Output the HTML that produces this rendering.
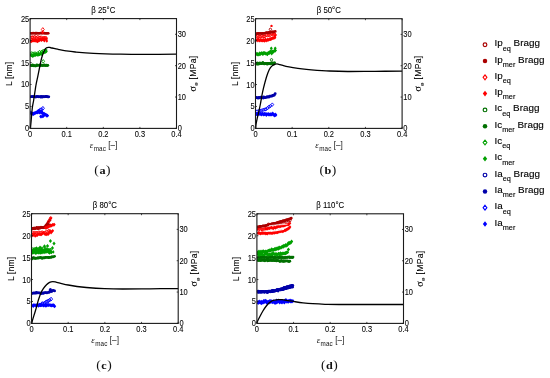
<!DOCTYPE html><html><head><meta charset="utf-8"><style>html,body{margin:0;padding:0;background:#fff;}svg{display:block;filter:blur(0.35px);}text{font-family:"Liberation Sans", sans-serif;}</style></head><body>
<svg width="550" height="378" viewBox="0 0 550 378">
<rect width="550" height="378" fill="#fff"/>
<clipPath id="ca"><rect x="30.10" y="18.60" width="146.40" height="109.80"/></clipPath>
<g clip-path="url(#ca)"><path d="M30.7,39.4l1.4,1.8l-1.4,1.8l-1.4,-1.8z" fill="#ff0000"/><path d="M31.2,39.6l1.4,1.8l-1.4,1.8l-1.4,-1.8z" fill="#ff0000"/><path d="M32.1,38.6l1.4,1.8l-1.4,1.8l-1.4,-1.8z" fill="#ff0000"/><path d="M32.7,38.9l1.4,1.8l-1.4,1.8l-1.4,-1.8z" fill="#ff0000"/><path d="M33.1,38.5l1.4,1.8l-1.4,1.8l-1.4,-1.8z" fill="#ff0000"/><path d="M33.8,38.8l1.4,1.8l-1.4,1.8l-1.4,-1.8z" fill="#ff0000"/><path d="M34.6,38.8l1.4,1.8l-1.4,1.8l-1.4,-1.8z" fill="#ff0000"/><path d="M35.2,38.3l1.4,1.8l-1.4,1.8l-1.4,-1.8z" fill="#ff0000"/><path d="M36.1,39.4l1.4,1.8l-1.4,1.8l-1.4,-1.8z" fill="#ff0000"/><path d="M36.6,38.3l1.4,1.8l-1.4,1.8l-1.4,-1.8z" fill="#ff0000"/><path d="M37.6,39.7l1.4,1.8l-1.4,1.8l-1.4,-1.8z" fill="#ff0000"/><path d="M37.8,38.8l1.4,1.8l-1.4,1.8l-1.4,-1.8z" fill="#ff0000"/><path d="M38.4,38.8l1.4,1.8l-1.4,1.8l-1.4,-1.8z" fill="#ff0000"/><path d="M39.4,38.7l1.4,1.8l-1.4,1.8l-1.4,-1.8z" fill="#ff0000"/><path d="M39.7,37.5l1.4,1.8l-1.4,1.8l-1.4,-1.8z" fill="#ff0000"/><path d="M40.4,37.7l1.4,1.8l-1.4,1.8l-1.4,-1.8z" fill="#ff0000"/><path d="M41.2,38.3l1.4,1.8l-1.4,1.8l-1.4,-1.8z" fill="#ff0000"/><path d="M41.6,38.1l1.4,1.8l-1.4,1.8l-1.4,-1.8z" fill="#ff0000"/><path d="M42.6,37.4l1.4,1.8l-1.4,1.8l-1.4,-1.8z" fill="#ff0000"/><path d="M43.2,38.1l1.4,1.8l-1.4,1.8l-1.4,-1.8z" fill="#ff0000"/><path d="M43.7,37.5l1.4,1.8l-1.4,1.8l-1.4,-1.8z" fill="#ff0000"/><path d="M44.5,38.8l1.4,1.8l-1.4,1.8l-1.4,-1.8z" fill="#ff0000"/><path d="M44.9,37.0l1.4,1.8l-1.4,1.8l-1.4,-1.8z" fill="#ff0000"/><path d="M45.9,37.2l1.4,1.8l-1.4,1.8l-1.4,-1.8z" fill="#ff0000"/><path d="M46.5,37.1l1.4,1.8l-1.4,1.8l-1.4,-1.8z" fill="#ff0000"/><path d="M46.8,39.2l1.4,1.8l-1.4,1.8l-1.4,-1.8z" fill="#ff0000"/><path d="M30.8,35.9l1.4,1.8l-1.4,1.8l-1.4,-1.8z" fill="none" stroke="#ff0000" stroke-width="0.9"/><path d="M32.0,35.6l1.4,1.8l-1.4,1.8l-1.4,-1.8z" fill="none" stroke="#ff0000" stroke-width="0.9"/><path d="M32.9,35.6l1.4,1.8l-1.4,1.8l-1.4,-1.8z" fill="none" stroke="#ff0000" stroke-width="0.9"/><path d="M34.4,35.3l1.4,1.8l-1.4,1.8l-1.4,-1.8z" fill="none" stroke="#ff0000" stroke-width="0.9"/><path d="M35.7,35.6l1.4,1.8l-1.4,1.8l-1.4,-1.8z" fill="none" stroke="#ff0000" stroke-width="0.9"/><path d="M36.7,36.3l1.4,1.8l-1.4,1.8l-1.4,-1.8z" fill="none" stroke="#ff0000" stroke-width="0.9"/><path d="M37.9,35.2l1.4,1.8l-1.4,1.8l-1.4,-1.8z" fill="none" stroke="#ff0000" stroke-width="0.9"/><path d="M39.3,36.0l1.4,1.8l-1.4,1.8l-1.4,-1.8z" fill="none" stroke="#ff0000" stroke-width="0.9"/><path d="M40.1,35.8l1.4,1.8l-1.4,1.8l-1.4,-1.8z" fill="none" stroke="#ff0000" stroke-width="0.9"/><path d="M41.4,35.8l1.4,1.8l-1.4,1.8l-1.4,-1.8z" fill="none" stroke="#ff0000" stroke-width="0.9"/><path d="M42.6,36.7l1.4,1.8l-1.4,1.8l-1.4,-1.8z" fill="none" stroke="#ff0000" stroke-width="0.9"/><path d="M43.5,36.1l1.4,1.8l-1.4,1.8l-1.4,-1.8z" fill="none" stroke="#ff0000" stroke-width="0.9"/><path d="M44.8,36.1l1.4,1.8l-1.4,1.8l-1.4,-1.8z" fill="none" stroke="#ff0000" stroke-width="0.9"/><path d="M46.0,36.2l1.4,1.8l-1.4,1.8l-1.4,-1.8z" fill="none" stroke="#ff0000" stroke-width="0.9"/><circle cx="30.3" cy="33.2" r="1.3" fill="#aa0000"/><circle cx="31.4" cy="33.2" r="1.3" fill="#aa0000"/><circle cx="31.7" cy="33.2" r="1.3" fill="#aa0000"/><circle cx="32.9" cy="33.3" r="1.3" fill="#aa0000"/><circle cx="33.1" cy="33.1" r="1.3" fill="#aa0000"/><circle cx="34.3" cy="33.2" r="1.3" fill="#aa0000"/><circle cx="35.0" cy="33.3" r="1.3" fill="#aa0000"/><circle cx="35.5" cy="33.1" r="1.3" fill="#aa0000"/><circle cx="36.2" cy="33.4" r="1.3" fill="#aa0000"/><circle cx="36.8" cy="33.0" r="1.3" fill="#aa0000"/><circle cx="37.5" cy="33.2" r="1.3" fill="#aa0000"/><circle cx="38.4" cy="33.3" r="1.3" fill="#aa0000"/><circle cx="39.2" cy="33.2" r="1.3" fill="#aa0000"/><circle cx="39.8" cy="33.2" r="1.3" fill="#aa0000"/><circle cx="40.5" cy="33.0" r="1.3" fill="#aa0000"/><circle cx="41.4" cy="33.1" r="1.3" fill="#aa0000"/><circle cx="42.0" cy="33.1" r="1.3" fill="#aa0000"/><circle cx="42.5" cy="33.1" r="1.3" fill="#aa0000"/><circle cx="43.7" cy="33.2" r="1.3" fill="#aa0000"/><circle cx="44.4" cy="33.0" r="1.3" fill="#aa0000"/><circle cx="44.8" cy="33.2" r="1.3" fill="#aa0000"/><circle cx="45.7" cy="33.2" r="1.3" fill="#aa0000"/><circle cx="46.1" cy="33.3" r="1.3" fill="#aa0000"/><circle cx="46.9" cy="33.2" r="1.3" fill="#aa0000"/><circle cx="47.7" cy="33.2" r="1.3" fill="#aa0000"/><circle cx="48.3" cy="33.2" r="1.3" fill="#aa0000"/><path d="M42.6,30.4l1.5,1.9l-1.5,1.9l-1.5,-1.9z" fill="#ff0000"/><path d="M42.8,27.6l1.5,1.9l-1.5,1.9l-1.5,-1.9z" fill="none" stroke="#ff0000" stroke-width="0.9"/><path d="M30.3,53.0l1.5,1.9l-1.5,1.9l-1.5,-1.9z" fill="#00a000"/><path d="M31.3,53.3l1.5,1.9l-1.5,1.9l-1.5,-1.9z" fill="#00a000"/><path d="M31.7,53.5l1.5,1.9l-1.5,1.9l-1.5,-1.9z" fill="#00a000"/><path d="M32.1,53.7l1.5,1.9l-1.5,1.9l-1.5,-1.9z" fill="#00a000"/><path d="M32.7,54.1l1.5,1.9l-1.5,1.9l-1.5,-1.9z" fill="#00a000"/><path d="M33.7,53.8l1.5,1.9l-1.5,1.9l-1.5,-1.9z" fill="#00a000"/><path d="M33.9,52.9l1.5,1.9l-1.5,1.9l-1.5,-1.9z" fill="#00a000"/><path d="M34.3,52.9l1.5,1.9l-1.5,1.9l-1.5,-1.9z" fill="#00a000"/><path d="M35.0,52.5l1.5,1.9l-1.5,1.9l-1.5,-1.9z" fill="#00a000"/><path d="M35.5,53.2l1.5,1.9l-1.5,1.9l-1.5,-1.9z" fill="#00a000"/><path d="M36.0,52.7l1.5,1.9l-1.5,1.9l-1.5,-1.9z" fill="#00a000"/><path d="M36.6,52.1l1.5,1.9l-1.5,1.9l-1.5,-1.9z" fill="#00a000"/><path d="M37.4,53.0l1.5,1.9l-1.5,1.9l-1.5,-1.9z" fill="#00a000"/><path d="M38.3,52.7l1.5,1.9l-1.5,1.9l-1.5,-1.9z" fill="#00a000"/><path d="M38.8,52.6l1.5,1.9l-1.5,1.9l-1.5,-1.9z" fill="#00a000"/><path d="M39.0,52.4l1.5,1.9l-1.5,1.9l-1.5,-1.9z" fill="#00a000"/><path d="M39.5,52.5l1.5,1.9l-1.5,1.9l-1.5,-1.9z" fill="#00a000"/><path d="M40.4,51.4l1.5,1.9l-1.5,1.9l-1.5,-1.9z" fill="#00a000"/><path d="M40.7,51.9l1.5,1.9l-1.5,1.9l-1.5,-1.9z" fill="#00a000"/><path d="M41.7,52.1l1.5,1.9l-1.5,1.9l-1.5,-1.9z" fill="#00a000"/><path d="M42.2,51.4l1.5,1.9l-1.5,1.9l-1.5,-1.9z" fill="#00a000"/><path d="M42.7,50.1l1.5,1.9l-1.5,1.9l-1.5,-1.9z" fill="#00a000"/><path d="M43.0,50.4l1.5,1.9l-1.5,1.9l-1.5,-1.9z" fill="#00a000"/><path d="M43.4,50.7l1.5,1.9l-1.5,1.9l-1.5,-1.9z" fill="#00a000"/><path d="M44.0,50.5l1.5,1.9l-1.5,1.9l-1.5,-1.9z" fill="#00a000"/><path d="M45.0,50.4l1.5,1.9l-1.5,1.9l-1.5,-1.9z" fill="#00a000"/><path d="M45.7,48.5l1.5,1.9l-1.5,1.9l-1.5,-1.9z" fill="#00a000"/><path d="M46.3,49.5l1.5,1.9l-1.5,1.9l-1.5,-1.9z" fill="#00a000"/><path d="M31.3,51.6l1.4,1.8l-1.4,1.8l-1.4,-1.8z" fill="none" stroke="#00a000" stroke-width="0.9"/><path d="M32.9,51.8l1.4,1.8l-1.4,1.8l-1.4,-1.8z" fill="none" stroke="#00a000" stroke-width="0.9"/><path d="M35.0,51.6l1.4,1.8l-1.4,1.8l-1.4,-1.8z" fill="none" stroke="#00a000" stroke-width="0.9"/><path d="M37.5,51.7l1.4,1.8l-1.4,1.8l-1.4,-1.8z" fill="none" stroke="#00a000" stroke-width="0.9"/><path d="M39.5,50.3l1.4,1.8l-1.4,1.8l-1.4,-1.8z" fill="none" stroke="#00a000" stroke-width="0.9"/><path d="M41.5,50.2l1.4,1.8l-1.4,1.8l-1.4,-1.8z" fill="none" stroke="#00a000" stroke-width="0.9"/><path d="M43.2,49.2l1.4,1.8l-1.4,1.8l-1.4,-1.8z" fill="none" stroke="#00a000" stroke-width="0.9"/><path d="M45.7,48.2l1.4,1.8l-1.4,1.8l-1.4,-1.8z" fill="none" stroke="#00a000" stroke-width="0.9"/><circle cx="30.7" cy="65.3" r="1.4" fill="#007000"/><circle cx="31.4" cy="65.5" r="1.4" fill="#007000"/><circle cx="31.8" cy="65.7" r="1.4" fill="#007000"/><circle cx="32.5" cy="64.8" r="1.4" fill="#007000"/><circle cx="33.2" cy="65.8" r="1.4" fill="#007000"/><circle cx="33.8" cy="65.3" r="1.4" fill="#007000"/><circle cx="34.5" cy="65.8" r="1.4" fill="#007000"/><circle cx="35.6" cy="65.9" r="1.4" fill="#007000"/><circle cx="35.9" cy="65.8" r="1.4" fill="#007000"/><circle cx="36.9" cy="64.8" r="1.4" fill="#007000"/><circle cx="37.4" cy="65.3" r="1.4" fill="#007000"/><circle cx="37.9" cy="65.4" r="1.4" fill="#007000"/><circle cx="39.2" cy="65.2" r="1.4" fill="#007000"/><circle cx="39.9" cy="65.1" r="1.4" fill="#007000"/><circle cx="40.3" cy="65.7" r="1.4" fill="#007000"/><circle cx="40.8" cy="65.0" r="1.4" fill="#007000"/><circle cx="41.6" cy="65.3" r="1.4" fill="#007000"/><circle cx="42.5" cy="65.5" r="1.4" fill="#007000"/><circle cx="43.0" cy="65.2" r="1.4" fill="#007000"/><circle cx="44.0" cy="65.4" r="1.4" fill="#007000"/><circle cx="44.4" cy="65.0" r="1.4" fill="#007000"/><circle cx="45.4" cy="65.4" r="1.4" fill="#007000"/><circle cx="45.9" cy="65.6" r="1.4" fill="#007000"/><circle cx="46.6" cy="65.2" r="1.4" fill="#007000"/><circle cx="47.3" cy="65.6" r="1.4" fill="#007000"/><circle cx="47.8" cy="65.3" r="1.4" fill="#007000"/><path d="M43.2,59.5l1.4,1.8l-1.4,1.8l-1.4,-1.8z" fill="none" stroke="#00a000" stroke-width="0.9"/><circle cx="30.2" cy="96.8" r="1.4" fill="#0000aa"/><circle cx="31.2" cy="96.7" r="1.4" fill="#0000aa"/><circle cx="32.1" cy="96.6" r="1.4" fill="#0000aa"/><circle cx="32.7" cy="96.7" r="1.4" fill="#0000aa"/><circle cx="33.4" cy="96.8" r="1.4" fill="#0000aa"/><circle cx="34.1" cy="96.7" r="1.4" fill="#0000aa"/><circle cx="34.7" cy="96.7" r="1.4" fill="#0000aa"/><circle cx="35.5" cy="97.1" r="1.4" fill="#0000aa"/><circle cx="36.3" cy="96.8" r="1.4" fill="#0000aa"/><circle cx="36.9" cy="96.4" r="1.4" fill="#0000aa"/><circle cx="37.8" cy="96.6" r="1.4" fill="#0000aa"/><circle cx="38.5" cy="96.8" r="1.4" fill="#0000aa"/><circle cx="39.1" cy="96.6" r="1.4" fill="#0000aa"/><circle cx="40.1" cy="96.8" r="1.4" fill="#0000aa"/><circle cx="40.7" cy="97.1" r="1.4" fill="#0000aa"/><circle cx="41.2" cy="96.5" r="1.4" fill="#0000aa"/><circle cx="42.1" cy="97.2" r="1.4" fill="#0000aa"/><circle cx="42.5" cy="96.7" r="1.4" fill="#0000aa"/><circle cx="43.2" cy="96.7" r="1.4" fill="#0000aa"/><circle cx="44.0" cy="96.8" r="1.4" fill="#0000aa"/><circle cx="44.6" cy="96.6" r="1.4" fill="#0000aa"/><circle cx="45.9" cy="96.5" r="1.4" fill="#0000aa"/><circle cx="46.1" cy="96.7" r="1.4" fill="#0000aa"/><circle cx="46.8" cy="96.5" r="1.4" fill="#0000aa"/><circle cx="48.0" cy="96.9" r="1.4" fill="#0000aa"/><circle cx="48.8" cy="96.8" r="1.4" fill="#0000aa"/><path d="M30.7,110.6l1.6,1.9l-1.6,1.9l-1.6,-1.9z" fill="#0000ff"/><path d="M31.6,112.1l1.6,1.9l-1.6,1.9l-1.6,-1.9z" fill="#0000ff"/><path d="M31.8,111.4l1.6,1.9l-1.6,1.9l-1.6,-1.9z" fill="#0000ff"/><path d="M32.6,112.0l1.6,1.9l-1.6,1.9l-1.6,-1.9z" fill="#0000ff"/><path d="M33.1,111.4l1.6,1.9l-1.6,1.9l-1.6,-1.9z" fill="#0000ff"/><path d="M33.6,112.3l1.6,1.9l-1.6,1.9l-1.6,-1.9z" fill="#0000ff"/><path d="M34.6,111.3l1.6,1.9l-1.6,1.9l-1.6,-1.9z" fill="#0000ff"/><path d="M35.1,111.2l1.6,1.9l-1.6,1.9l-1.6,-1.9z" fill="#0000ff"/><path d="M35.9,110.7l1.6,1.9l-1.6,1.9l-1.6,-1.9z" fill="#0000ff"/><path d="M36.7,110.5l1.6,1.9l-1.6,1.9l-1.6,-1.9z" fill="#0000ff"/><path d="M37.2,110.6l1.6,1.9l-1.6,1.9l-1.6,-1.9z" fill="#0000ff"/><path d="M37.5,110.2l1.6,1.9l-1.6,1.9l-1.6,-1.9z" fill="#0000ff"/><path d="M38.0,110.2l1.6,1.9l-1.6,1.9l-1.6,-1.9z" fill="#0000ff"/><path d="M38.7,109.7l1.6,1.9l-1.6,1.9l-1.6,-1.9z" fill="#0000ff"/><path d="M39.5,110.7l1.6,1.9l-1.6,1.9l-1.6,-1.9z" fill="#0000ff"/><path d="M40.0,109.3l1.6,1.9l-1.6,1.9l-1.6,-1.9z" fill="#0000ff"/><path d="M40.6,110.3l1.6,1.9l-1.6,1.9l-1.6,-1.9z" fill="#0000ff"/><path d="M41.6,109.7l1.6,1.9l-1.6,1.9l-1.6,-1.9z" fill="#0000ff"/><path d="M41.8,111.0l1.6,1.9l-1.6,1.9l-1.6,-1.9z" fill="#0000ff"/><path d="M42.6,111.1l1.6,1.9l-1.6,1.9l-1.6,-1.9z" fill="#0000ff"/><path d="M43.1,111.8l1.6,1.9l-1.6,1.9l-1.6,-1.9z" fill="#0000ff"/><path d="M44.1,111.8l1.6,1.9l-1.6,1.9l-1.6,-1.9z" fill="#0000ff"/><path d="M44.3,112.4l1.6,1.9l-1.6,1.9l-1.6,-1.9z" fill="#0000ff"/><path d="M45.4,112.8l1.6,1.9l-1.6,1.9l-1.6,-1.9z" fill="#0000ff"/><path d="M45.8,112.7l1.6,1.9l-1.6,1.9l-1.6,-1.9z" fill="#0000ff"/><path d="M46.7,113.7l1.6,1.9l-1.6,1.9l-1.6,-1.9z" fill="#0000ff"/><path d="M46.9,113.6l1.6,1.9l-1.6,1.9l-1.6,-1.9z" fill="#0000ff"/><path d="M47.5,113.8l1.6,1.9l-1.6,1.9l-1.6,-1.9z" fill="#0000ff"/><path d="M37.8,109.8l1.5,1.9l-1.5,1.9l-1.5,-1.9z" fill="none" stroke="#0000ff" stroke-width="0.9"/><path d="M39.0,109.0l1.5,1.9l-1.5,1.9l-1.5,-1.9z" fill="none" stroke="#0000ff" stroke-width="0.9"/><path d="M40.3,107.9l1.5,1.9l-1.5,1.9l-1.5,-1.9z" fill="none" stroke="#0000ff" stroke-width="0.9"/><path d="M41.5,107.7l1.5,1.9l-1.5,1.9l-1.5,-1.9z" fill="none" stroke="#0000ff" stroke-width="0.9"/><path d="M42.9,106.4l1.5,1.9l-1.5,1.9l-1.5,-1.9z" fill="none" stroke="#0000ff" stroke-width="0.9"/><path d="M40.7,114.6l1.5,1.9l-1.5,1.9l-1.5,-1.9z" fill="#0000ff"/><path d="M41.9,114.8l1.5,1.9l-1.5,1.9l-1.5,-1.9z" fill="#0000ff"/><path d="M43.0,114.4l1.5,1.9l-1.5,1.9l-1.5,-1.9z" fill="#0000ff"/><path d="M43.8,113.7l1.5,1.9l-1.5,1.9l-1.5,-1.9z" fill="#0000ff"/></g>
<path d="M30.40,128.40 C30.53,127.00 30.88,123.40 31.20,120.00 C31.52,116.60 31.88,111.33 32.30,108.00 C32.72,104.67 33.22,103.00 33.70,100.00 C34.18,97.00 34.78,92.70 35.20,90.00 C35.62,87.30 35.75,86.15 36.20,83.80 C36.65,81.45 37.35,78.55 37.90,75.90 C38.45,73.25 38.97,70.52 39.50,67.90 C40.03,65.28 40.62,62.27 41.10,60.20 C41.58,58.13 41.98,56.82 42.40,55.50 C42.82,54.18 43.15,53.35 43.60,52.30 C44.05,51.25 44.60,49.95 45.10,49.20 C45.60,48.45 46.08,48.12 46.60,47.80 C47.12,47.48 47.63,47.35 48.20,47.30 C48.77,47.25 49.37,47.38 50.00,47.50 C50.63,47.62 51.17,47.80 52.00,48.00 C52.83,48.20 53.85,48.43 55.00,48.70 C56.15,48.97 57.07,49.23 58.90,49.60 C60.73,49.97 63.27,50.50 66.00,50.90 C68.73,51.30 70.72,51.60 75.30,52.00 C79.88,52.40 85.93,52.95 93.50,53.30 C101.07,53.65 111.62,53.93 120.70,54.10 C129.78,54.27 138.70,54.28 148.00,54.30 C157.30,54.32 171.75,54.22 176.50,54.20" fill="none" stroke="#000" stroke-width="1.3"/>
<rect x="30.10" y="18.60" width="146.40" height="109.80" fill="none" stroke="#1a1a1a" stroke-width="1.1"/>
<path d="M30.10,128.40v-1.5M30.10,18.60v1.5M66.70,128.40v-1.5M66.70,18.60v1.5M103.30,128.40v-1.5M103.30,18.60v1.5M139.90,128.40v-1.5M139.90,18.60v1.5M176.50,128.40v-1.5M176.50,18.60v1.5M30.10,128.40h1.5M30.10,106.44h1.5M30.10,84.48h1.5M30.10,62.52h1.5M30.10,40.56h1.5M30.10,18.60h1.5M176.50,128.40h-1.5M176.50,97.03h-1.5M176.50,65.66h-1.5M176.50,34.29h-1.5" stroke="#1a1a1a" stroke-width="0.8" fill="none"/>
<g font-size="8.3" fill="#000" stroke="#000" stroke-width="0.08"><text transform="translate(30.10,137.10) scale(0.900,1)" text-anchor="middle">0</text><text transform="translate(66.70,137.10) scale(0.900,1)" text-anchor="middle">0.1</text><text transform="translate(103.30,137.10) scale(0.900,1)" text-anchor="middle">0.2</text><text transform="translate(139.90,137.10) scale(0.900,1)" text-anchor="middle">0.3</text><text transform="translate(176.50,137.10) scale(0.900,1)" text-anchor="middle">0.4</text><text transform="translate(29.20,131.40) scale(0.900,1)" text-anchor="end">0</text><text transform="translate(29.20,109.44) scale(0.900,1)" text-anchor="end">5</text><text transform="translate(29.20,87.48) scale(0.900,1)" text-anchor="end">10</text><text transform="translate(29.20,65.52) scale(0.900,1)" text-anchor="end">15</text><text transform="translate(29.20,43.56) scale(0.900,1)" text-anchor="end">20</text><text transform="translate(29.20,21.60) scale(0.900,1)" text-anchor="end">25</text><text transform="translate(177.70,131.40) scale(0.900,1)" text-anchor="start">0</text><text transform="translate(177.70,100.03) scale(0.900,1)" text-anchor="start">10</text><text transform="translate(177.70,68.66) scale(0.900,1)" text-anchor="start">20</text><text transform="translate(177.70,37.29) scale(0.900,1)" text-anchor="start">30</text></g>
<text transform="translate(103.30,12.80) scale(0.93,1)" font-size="8.4" text-anchor="middle" fill="#000" stroke="#000" stroke-width="0.08">β 25°C</text>
<text transform="translate(12.40,73.80) rotate(-90)" font-size="8.4" letter-spacing="0.25" text-anchor="middle" fill="#000" stroke="#000" stroke-width="0.08">L [nm]</text>
<text transform="translate(195.50,73.50) rotate(-90)" font-size="8.6" letter-spacing="0.3" text-anchor="middle" fill="#000" stroke="#000" stroke-width="0.08"><tspan font-family="'Liberation Serif',serif" font-size="10">σ</tspan><tspan font-size="6.2" dy="2.6">e</tspan><tspan dy="-2.6"> [MPa]</tspan></text>
<text x="103.60" y="147.80" font-size="8.3" text-anchor="middle" fill="#111"><tspan font-family="'Liberation Serif',serif" font-style="italic" font-size="8.8">ε</tspan><tspan font-size="6.3" dy="3.6" letter-spacing="0.15" dx="0.4">mac</tspan><tspan dy="-3.6" font-size="8.2"> [–]</tspan></text>
<text transform="translate(102.70,174.10) scale(1.1,1)" font-size="12.3" letter-spacing="0.5" text-anchor="middle" fill="#111" style="font-family:'Liberation Serif',serif">(<tspan font-size="11.1" font-weight="bold">a</tspan>)</text>
<clipPath id="cb"><rect x="255.50" y="18.70" width="146.60" height="109.70"/></clipPath>
<g clip-path="url(#cb)"><path d="M256.0,38.4l1.5,1.9l-1.5,1.9l-1.5,-1.9z" fill="#ff0000"/><path d="M257.2,37.7l1.5,1.9l-1.5,1.9l-1.5,-1.9z" fill="#ff0000"/><path d="M257.9,38.6l1.5,1.9l-1.5,1.9l-1.5,-1.9z" fill="#ff0000"/><path d="M258.4,37.6l1.5,1.9l-1.5,1.9l-1.5,-1.9z" fill="#ff0000"/><path d="M259.5,38.4l1.5,1.9l-1.5,1.9l-1.5,-1.9z" fill="#ff0000"/><path d="M259.9,38.8l1.5,1.9l-1.5,1.9l-1.5,-1.9z" fill="#ff0000"/><path d="M260.8,37.8l1.5,1.9l-1.5,1.9l-1.5,-1.9z" fill="#ff0000"/><path d="M261.5,38.4l1.5,1.9l-1.5,1.9l-1.5,-1.9z" fill="#ff0000"/><path d="M262.1,38.7l1.5,1.9l-1.5,1.9l-1.5,-1.9z" fill="#ff0000"/><path d="M262.8,38.5l1.5,1.9l-1.5,1.9l-1.5,-1.9z" fill="#ff0000"/><path d="M263.6,38.1l1.5,1.9l-1.5,1.9l-1.5,-1.9z" fill="#ff0000"/><path d="M264.3,39.0l1.5,1.9l-1.5,1.9l-1.5,-1.9z" fill="#ff0000"/><path d="M265.4,37.6l1.5,1.9l-1.5,1.9l-1.5,-1.9z" fill="#ff0000"/><path d="M265.9,38.4l1.5,1.9l-1.5,1.9l-1.5,-1.9z" fill="#ff0000"/><path d="M266.8,38.7l1.5,1.9l-1.5,1.9l-1.5,-1.9z" fill="#ff0000"/><path d="M267.4,37.7l1.5,1.9l-1.5,1.9l-1.5,-1.9z" fill="#ff0000"/><path d="M268.6,38.0l1.5,1.9l-1.5,1.9l-1.5,-1.9z" fill="#ff0000"/><path d="M269.4,37.3l1.5,1.9l-1.5,1.9l-1.5,-1.9z" fill="#ff0000"/><path d="M270.2,37.3l1.5,1.9l-1.5,1.9l-1.5,-1.9z" fill="#ff0000"/><path d="M270.5,37.3l1.5,1.9l-1.5,1.9l-1.5,-1.9z" fill="#ff0000"/><path d="M271.3,37.0l1.5,1.9l-1.5,1.9l-1.5,-1.9z" fill="#ff0000"/><path d="M272.1,36.3l1.5,1.9l-1.5,1.9l-1.5,-1.9z" fill="#ff0000"/><path d="M272.9,36.3l1.5,1.9l-1.5,1.9l-1.5,-1.9z" fill="#ff0000"/><path d="M273.4,36.0l1.5,1.9l-1.5,1.9l-1.5,-1.9z" fill="#ff0000"/><path d="M274.4,35.8l1.5,1.9l-1.5,1.9l-1.5,-1.9z" fill="#ff0000"/><path d="M274.9,35.7l1.5,1.9l-1.5,1.9l-1.5,-1.9z" fill="#ff0000"/><path d="M256.0,34.9l1.4,1.7l-1.4,1.7l-1.4,-1.7z" fill="none" stroke="#ff0000" stroke-width="0.9"/><path d="M257.5,34.5l1.4,1.7l-1.4,1.7l-1.4,-1.7z" fill="none" stroke="#ff0000" stroke-width="0.9"/><path d="M258.8,34.7l1.4,1.7l-1.4,1.7l-1.4,-1.7z" fill="none" stroke="#ff0000" stroke-width="0.9"/><path d="M260.1,35.0l1.4,1.7l-1.4,1.7l-1.4,-1.7z" fill="none" stroke="#ff0000" stroke-width="0.9"/><path d="M261.2,34.6l1.4,1.7l-1.4,1.7l-1.4,-1.7z" fill="none" stroke="#ff0000" stroke-width="0.9"/><path d="M262.8,34.8l1.4,1.7l-1.4,1.7l-1.4,-1.7z" fill="none" stroke="#ff0000" stroke-width="0.9"/><path d="M263.9,34.8l1.4,1.7l-1.4,1.7l-1.4,-1.7z" fill="none" stroke="#ff0000" stroke-width="0.9"/><path d="M264.8,34.6l1.4,1.7l-1.4,1.7l-1.4,-1.7z" fill="none" stroke="#ff0000" stroke-width="0.9"/><path d="M266.4,33.6l1.4,1.7l-1.4,1.7l-1.4,-1.7z" fill="none" stroke="#ff0000" stroke-width="0.9"/><path d="M267.7,33.8l1.4,1.7l-1.4,1.7l-1.4,-1.7z" fill="none" stroke="#ff0000" stroke-width="0.9"/><path d="M268.9,33.4l1.4,1.7l-1.4,1.7l-1.4,-1.7z" fill="none" stroke="#ff0000" stroke-width="0.9"/><path d="M270.1,33.4l1.4,1.7l-1.4,1.7l-1.4,-1.7z" fill="none" stroke="#ff0000" stroke-width="0.9"/><path d="M271.6,32.2l1.4,1.7l-1.4,1.7l-1.4,-1.7z" fill="none" stroke="#ff0000" stroke-width="0.9"/><path d="M272.7,32.5l1.4,1.7l-1.4,1.7l-1.4,-1.7z" fill="none" stroke="#ff0000" stroke-width="0.9"/><path d="M274.0,32.3l1.4,1.7l-1.4,1.7l-1.4,-1.7z" fill="none" stroke="#ff0000" stroke-width="0.9"/><path d="M275.0,33.0l1.4,1.7l-1.4,1.7l-1.4,-1.7z" fill="none" stroke="#ff0000" stroke-width="0.9"/><circle cx="256.1" cy="33.6" r="1.3" fill="#aa0000"/><circle cx="256.7" cy="33.7" r="1.3" fill="#aa0000"/><circle cx="257.8" cy="33.4" r="1.3" fill="#aa0000"/><circle cx="258.5" cy="33.5" r="1.3" fill="#aa0000"/><circle cx="258.9" cy="33.4" r="1.3" fill="#aa0000"/><circle cx="260.1" cy="33.5" r="1.3" fill="#aa0000"/><circle cx="260.7" cy="33.3" r="1.3" fill="#aa0000"/><circle cx="261.6" cy="33.6" r="1.3" fill="#aa0000"/><circle cx="262.1" cy="33.5" r="1.3" fill="#aa0000"/><circle cx="262.7" cy="33.3" r="1.3" fill="#aa0000"/><circle cx="263.5" cy="33.4" r="1.3" fill="#aa0000"/><circle cx="264.6" cy="33.2" r="1.3" fill="#aa0000"/><circle cx="265.2" cy="33.0" r="1.3" fill="#aa0000"/><circle cx="266.0" cy="32.8" r="1.3" fill="#aa0000"/><circle cx="266.8" cy="32.6" r="1.3" fill="#aa0000"/><circle cx="267.6" cy="32.8" r="1.3" fill="#aa0000"/><circle cx="268.1" cy="32.7" r="1.3" fill="#aa0000"/><circle cx="269.1" cy="32.4" r="1.3" fill="#aa0000"/><circle cx="269.4" cy="32.5" r="1.3" fill="#aa0000"/><circle cx="270.2" cy="32.2" r="1.3" fill="#aa0000"/><circle cx="271.4" cy="32.2" r="1.3" fill="#aa0000"/><circle cx="272.1" cy="31.9" r="1.3" fill="#aa0000"/><circle cx="272.7" cy="32.0" r="1.3" fill="#aa0000"/><circle cx="273.5" cy="31.9" r="1.3" fill="#aa0000"/><circle cx="274.1" cy="31.7" r="1.3" fill="#aa0000"/><circle cx="275.3" cy="31.4" r="1.3" fill="#aa0000"/><circle cx="270.4" cy="29.4" r="1.2" fill="none" stroke="#aa0000" stroke-width="0.9"/><circle cx="271.5" cy="25.9" r="1.2" fill="#ff0000"/><path d="M275.2,33.6l1.5,1.9l-1.5,1.9l-1.5,-1.9z" fill="#ff0000"/><path d="M256.2,51.8l1.6,2.0l-1.6,2.0l-1.6,-2.0z" fill="#00a000"/><path d="M257.2,52.5l1.6,2.0l-1.6,2.0l-1.6,-2.0z" fill="#00a000"/><path d="M257.6,51.9l1.6,2.0l-1.6,2.0l-1.6,-2.0z" fill="#00a000"/><path d="M258.3,52.5l1.6,2.0l-1.6,2.0l-1.6,-2.0z" fill="#00a000"/><path d="M259.3,52.2l1.6,2.0l-1.6,2.0l-1.6,-2.0z" fill="#00a000"/><path d="M259.8,51.2l1.6,2.0l-1.6,2.0l-1.6,-2.0z" fill="#00a000"/><path d="M260.6,52.1l1.6,2.0l-1.6,2.0l-1.6,-2.0z" fill="#00a000"/><path d="M261.8,50.9l1.6,2.0l-1.6,2.0l-1.6,-2.0z" fill="#00a000"/><path d="M262.5,51.7l1.6,2.0l-1.6,2.0l-1.6,-2.0z" fill="#00a000"/><path d="M263.0,52.1l1.6,2.0l-1.6,2.0l-1.6,-2.0z" fill="#00a000"/><path d="M263.6,51.1l1.6,2.0l-1.6,2.0l-1.6,-2.0z" fill="#00a000"/><path d="M264.4,50.9l1.6,2.0l-1.6,2.0l-1.6,-2.0z" fill="#00a000"/><path d="M265.3,51.6l1.6,2.0l-1.6,2.0l-1.6,-2.0z" fill="#00a000"/><path d="M266.0,51.5l1.6,2.0l-1.6,2.0l-1.6,-2.0z" fill="#00a000"/><path d="M267.2,52.3l1.6,2.0l-1.6,2.0l-1.6,-2.0z" fill="#00a000"/><path d="M267.5,52.0l1.6,2.0l-1.6,2.0l-1.6,-2.0z" fill="#00a000"/><path d="M268.3,50.8l1.6,2.0l-1.6,2.0l-1.6,-2.0z" fill="#00a000"/><path d="M269.6,51.0l1.6,2.0l-1.6,2.0l-1.6,-2.0z" fill="#00a000"/><path d="M270.0,50.0l1.6,2.0l-1.6,2.0l-1.6,-2.0z" fill="#00a000"/><path d="M270.8,49.3l1.6,2.0l-1.6,2.0l-1.6,-2.0z" fill="#00a000"/><path d="M271.7,51.4l1.6,2.0l-1.6,2.0l-1.6,-2.0z" fill="#00a000"/><path d="M272.3,49.6l1.6,2.0l-1.6,2.0l-1.6,-2.0z" fill="#00a000"/><path d="M272.9,49.9l1.6,2.0l-1.6,2.0l-1.6,-2.0z" fill="#00a000"/><path d="M273.7,49.5l1.6,2.0l-1.6,2.0l-1.6,-2.0z" fill="#00a000"/><path d="M275.0,48.4l1.6,2.0l-1.6,2.0l-1.6,-2.0z" fill="#00a000"/><path d="M275.3,48.6l1.6,2.0l-1.6,2.0l-1.6,-2.0z" fill="#00a000"/><path d="M271.3,46.4l1.5,1.9l-1.5,1.9l-1.5,-1.9z" fill="#00a000"/><path d="M275.2,46.4l1.5,1.9l-1.5,1.9l-1.5,-1.9z" fill="#00a000"/><circle cx="256.4" cy="63.2" r="1.5" fill="#007000"/><circle cx="257.0" cy="64.1" r="1.5" fill="#007000"/><circle cx="257.6" cy="63.0" r="1.5" fill="#007000"/><circle cx="258.4" cy="63.9" r="1.5" fill="#007000"/><circle cx="258.9" cy="63.5" r="1.5" fill="#007000"/><circle cx="259.7" cy="63.2" r="1.5" fill="#007000"/><circle cx="260.0" cy="63.1" r="1.5" fill="#007000"/><circle cx="261.2" cy="63.6" r="1.5" fill="#007000"/><circle cx="261.5" cy="63.6" r="1.5" fill="#007000"/><circle cx="262.2" cy="63.3" r="1.5" fill="#007000"/><circle cx="262.8" cy="62.4" r="1.5" fill="#007000"/><circle cx="263.7" cy="63.2" r="1.5" fill="#007000"/><circle cx="264.3" cy="63.7" r="1.5" fill="#007000"/><circle cx="264.8" cy="63.4" r="1.5" fill="#007000"/><circle cx="265.9" cy="63.5" r="1.5" fill="#007000"/><circle cx="266.4" cy="63.4" r="1.5" fill="#007000"/><circle cx="267.3" cy="64.0" r="1.5" fill="#007000"/><circle cx="267.7" cy="63.4" r="1.5" fill="#007000"/><circle cx="268.2" cy="63.4" r="1.5" fill="#007000"/><circle cx="269.0" cy="63.5" r="1.5" fill="#007000"/><circle cx="269.6" cy="63.4" r="1.5" fill="#007000"/><circle cx="270.5" cy="63.7" r="1.5" fill="#007000"/><circle cx="271.1" cy="62.9" r="1.5" fill="#007000"/><circle cx="271.7" cy="62.9" r="1.5" fill="#007000"/><circle cx="272.4" cy="63.2" r="1.5" fill="#007000"/><circle cx="272.9" cy="63.1" r="1.5" fill="#007000"/><circle cx="273.6" cy="64.1" r="1.5" fill="#007000"/><circle cx="274.5" cy="62.7" r="1.5" fill="#007000"/><circle cx="271.5" cy="59.8" r="1.2" fill="none" stroke="#007000" stroke-width="0.9"/><circle cx="256.0" cy="97.3" r="1.4" fill="#0000aa"/><circle cx="256.8" cy="97.7" r="1.4" fill="#0000aa"/><circle cx="257.7" cy="98.0" r="1.4" fill="#0000aa"/><circle cx="258.8" cy="98.1" r="1.4" fill="#0000aa"/><circle cx="259.0" cy="97.3" r="1.4" fill="#0000aa"/><circle cx="259.7" cy="97.6" r="1.4" fill="#0000aa"/><circle cx="260.8" cy="97.2" r="1.4" fill="#0000aa"/><circle cx="261.6" cy="98.1" r="1.4" fill="#0000aa"/><circle cx="262.6" cy="97.7" r="1.4" fill="#0000aa"/><circle cx="263.3" cy="98.1" r="1.4" fill="#0000aa"/><circle cx="263.7" cy="97.0" r="1.4" fill="#0000aa"/><circle cx="264.4" cy="97.7" r="1.4" fill="#0000aa"/><circle cx="265.5" cy="97.7" r="1.4" fill="#0000aa"/><circle cx="266.4" cy="97.2" r="1.4" fill="#0000aa"/><circle cx="267.1" cy="96.8" r="1.4" fill="#0000aa"/><circle cx="267.6" cy="97.0" r="1.4" fill="#0000aa"/><circle cx="268.6" cy="96.8" r="1.4" fill="#0000aa"/><circle cx="269.0" cy="97.0" r="1.4" fill="#0000aa"/><circle cx="269.8" cy="96.2" r="1.4" fill="#0000aa"/><circle cx="270.5" cy="96.1" r="1.4" fill="#0000aa"/><circle cx="271.6" cy="96.2" r="1.4" fill="#0000aa"/><circle cx="272.0" cy="95.9" r="1.4" fill="#0000aa"/><circle cx="273.1" cy="95.4" r="1.4" fill="#0000aa"/><circle cx="273.7" cy="95.1" r="1.4" fill="#0000aa"/><circle cx="274.2" cy="95.2" r="1.4" fill="#0000aa"/><circle cx="275.2" cy="93.7" r="1.4" fill="#0000aa"/><path d="M256.3,112.3l1.6,2.0l-1.6,2.0l-1.6,-2.0z" fill="#0000ff"/><path d="M257.2,111.7l1.6,2.0l-1.6,2.0l-1.6,-2.0z" fill="#0000ff"/><path d="M257.5,112.1l1.6,2.0l-1.6,2.0l-1.6,-2.0z" fill="#0000ff"/><path d="M258.7,112.0l1.6,2.0l-1.6,2.0l-1.6,-2.0z" fill="#0000ff"/><path d="M258.8,111.7l1.6,2.0l-1.6,2.0l-1.6,-2.0z" fill="#0000ff"/><path d="M259.9,111.9l1.6,2.0l-1.6,2.0l-1.6,-2.0z" fill="#0000ff"/><path d="M260.5,111.7l1.6,2.0l-1.6,2.0l-1.6,-2.0z" fill="#0000ff"/><path d="M261.4,112.4l1.6,2.0l-1.6,2.0l-1.6,-2.0z" fill="#0000ff"/><path d="M261.8,112.0l1.6,2.0l-1.6,2.0l-1.6,-2.0z" fill="#0000ff"/><path d="M262.7,111.6l1.6,2.0l-1.6,2.0l-1.6,-2.0z" fill="#0000ff"/><path d="M263.4,112.5l1.6,2.0l-1.6,2.0l-1.6,-2.0z" fill="#0000ff"/><path d="M264.4,112.2l1.6,2.0l-1.6,2.0l-1.6,-2.0z" fill="#0000ff"/><path d="M264.8,111.7l1.6,2.0l-1.6,2.0l-1.6,-2.0z" fill="#0000ff"/><path d="M266.0,112.0l1.6,2.0l-1.6,2.0l-1.6,-2.0z" fill="#0000ff"/><path d="M266.3,113.1l1.6,2.0l-1.6,2.0l-1.6,-2.0z" fill="#0000ff"/><path d="M267.0,112.3l1.6,2.0l-1.6,2.0l-1.6,-2.0z" fill="#0000ff"/><path d="M268.2,111.9l1.6,2.0l-1.6,2.0l-1.6,-2.0z" fill="#0000ff"/><path d="M268.7,112.4l1.6,2.0l-1.6,2.0l-1.6,-2.0z" fill="#0000ff"/><path d="M269.4,112.6l1.6,2.0l-1.6,2.0l-1.6,-2.0z" fill="#0000ff"/><path d="M270.2,112.6l1.6,2.0l-1.6,2.0l-1.6,-2.0z" fill="#0000ff"/><path d="M270.8,112.3l1.6,2.0l-1.6,2.0l-1.6,-2.0z" fill="#0000ff"/><path d="M271.4,112.6l1.6,2.0l-1.6,2.0l-1.6,-2.0z" fill="#0000ff"/><path d="M272.1,112.3l1.6,2.0l-1.6,2.0l-1.6,-2.0z" fill="#0000ff"/><path d="M272.8,111.6l1.6,2.0l-1.6,2.0l-1.6,-2.0z" fill="#0000ff"/><path d="M274.0,113.0l1.6,2.0l-1.6,2.0l-1.6,-2.0z" fill="#0000ff"/><path d="M274.7,113.4l1.6,2.0l-1.6,2.0l-1.6,-2.0z" fill="#0000ff"/><path d="M275.2,112.4l1.6,2.0l-1.6,2.0l-1.6,-2.0z" fill="#0000ff"/><path d="M275.8,113.1l1.6,2.0l-1.6,2.0l-1.6,-2.0z" fill="#0000ff"/><path d="M257.1,109.7l1.4,1.7l-1.4,1.7l-1.4,-1.7z" fill="none" stroke="#0000ff" stroke-width="0.9"/><path d="M259.0,109.2l1.4,1.7l-1.4,1.7l-1.4,-1.7z" fill="none" stroke="#0000ff" stroke-width="0.9"/><path d="M260.2,109.1l1.4,1.7l-1.4,1.7l-1.4,-1.7z" fill="none" stroke="#0000ff" stroke-width="0.9"/><path d="M261.6,108.8l1.4,1.7l-1.4,1.7l-1.4,-1.7z" fill="none" stroke="#0000ff" stroke-width="0.9"/><path d="M263.2,108.1l1.4,1.7l-1.4,1.7l-1.4,-1.7z" fill="none" stroke="#0000ff" stroke-width="0.9"/><path d="M265.0,107.8l1.4,1.7l-1.4,1.7l-1.4,-1.7z" fill="none" stroke="#0000ff" stroke-width="0.9"/><path d="M266.0,107.5l1.4,1.7l-1.4,1.7l-1.4,-1.7z" fill="none" stroke="#0000ff" stroke-width="0.9"/><path d="M267.5,106.4l1.4,1.7l-1.4,1.7l-1.4,-1.7z" fill="none" stroke="#0000ff" stroke-width="0.9"/><path d="M269.0,105.1l1.4,1.7l-1.4,1.7l-1.4,-1.7z" fill="none" stroke="#0000ff" stroke-width="0.9"/><path d="M270.3,104.4l1.4,1.7l-1.4,1.7l-1.4,-1.7z" fill="none" stroke="#0000ff" stroke-width="0.9"/><path d="M272.3,102.9l1.4,1.7l-1.4,1.7l-1.4,-1.7z" fill="none" stroke="#0000ff" stroke-width="0.9"/></g>
<path d="M255.70,128.40 C255.77,127.67 255.87,125.60 256.10,124.00 C256.33,122.40 256.68,120.72 257.10,118.80 C257.52,116.88 258.05,114.97 258.60,112.50 C259.15,110.03 259.87,106.75 260.40,104.00 C260.93,101.25 261.27,98.72 261.80,96.00 C262.33,93.28 262.83,90.83 263.60,87.70 C264.37,84.57 265.47,80.18 266.40,77.20 C267.33,74.22 268.38,71.57 269.20,69.80 C270.02,68.03 270.50,67.47 271.30,66.60 C272.10,65.73 273.05,65.05 274.00,64.60 C274.95,64.15 276.00,63.90 277.00,63.90 C278.00,63.90 278.50,64.20 280.00,64.60 C281.50,65.00 283.83,65.80 286.00,66.30 C288.17,66.80 290.33,67.17 293.00,67.60 C295.67,68.03 298.93,68.53 302.00,68.90 C305.07,69.27 306.82,69.45 311.40,69.80 C315.98,70.15 323.45,70.72 329.50,71.00 C335.55,71.28 340.12,71.45 347.70,71.50 C355.28,71.55 365.93,71.35 375.00,71.30 C384.07,71.25 397.58,71.22 402.10,71.20" fill="none" stroke="#000" stroke-width="1.3"/>
<rect x="255.50" y="18.70" width="146.60" height="109.70" fill="none" stroke="#1a1a1a" stroke-width="1.1"/>
<path d="M255.50,128.40v-1.5M255.50,18.70v1.5M292.15,128.40v-1.5M292.15,18.70v1.5M328.80,128.40v-1.5M328.80,18.70v1.5M365.45,128.40v-1.5M365.45,18.70v1.5M402.10,128.40v-1.5M402.10,18.70v1.5M255.50,128.40h1.5M255.50,106.46h1.5M255.50,84.52h1.5M255.50,62.58h1.5M255.50,40.64h1.5M255.50,18.70h1.5M402.10,128.40h-1.5M402.10,97.06h-1.5M402.10,65.71h-1.5M402.10,34.37h-1.5" stroke="#1a1a1a" stroke-width="0.8" fill="none"/>
<g font-size="8.3" fill="#000" stroke="#000" stroke-width="0.08"><text transform="translate(255.50,137.10) scale(0.900,1)" text-anchor="middle">0</text><text transform="translate(292.15,137.10) scale(0.900,1)" text-anchor="middle">0.1</text><text transform="translate(328.80,137.10) scale(0.900,1)" text-anchor="middle">0.2</text><text transform="translate(365.45,137.10) scale(0.900,1)" text-anchor="middle">0.3</text><text transform="translate(402.10,137.10) scale(0.900,1)" text-anchor="middle">0.4</text><text transform="translate(254.60,131.40) scale(0.900,1)" text-anchor="end">0</text><text transform="translate(254.60,109.46) scale(0.900,1)" text-anchor="end">5</text><text transform="translate(254.60,87.52) scale(0.900,1)" text-anchor="end">10</text><text transform="translate(254.60,65.58) scale(0.900,1)" text-anchor="end">15</text><text transform="translate(254.60,43.64) scale(0.900,1)" text-anchor="end">20</text><text transform="translate(254.60,21.70) scale(0.900,1)" text-anchor="end">25</text><text transform="translate(403.30,131.40) scale(0.900,1)" text-anchor="start">0</text><text transform="translate(403.30,100.06) scale(0.900,1)" text-anchor="start">10</text><text transform="translate(403.30,68.71) scale(0.900,1)" text-anchor="start">20</text><text transform="translate(403.30,37.37) scale(0.900,1)" text-anchor="start">30</text></g>
<text transform="translate(328.80,12.90) scale(0.93,1)" font-size="8.4" text-anchor="middle" fill="#000" stroke="#000" stroke-width="0.08">β 50°C</text>
<text transform="translate(237.80,73.85) rotate(-90)" font-size="8.4" letter-spacing="0.25" text-anchor="middle" fill="#000" stroke="#000" stroke-width="0.08">L [nm]</text>
<text transform="translate(421.10,73.55) rotate(-90)" font-size="8.6" letter-spacing="0.3" text-anchor="middle" fill="#000" stroke="#000" stroke-width="0.08"><tspan font-family="'Liberation Serif',serif" font-size="10">σ</tspan><tspan font-size="6.2" dy="2.6">e</tspan><tspan dy="-2.6"> [MPa]</tspan></text>
<text x="329.10" y="147.80" font-size="8.3" text-anchor="middle" fill="#111"><tspan font-family="'Liberation Serif',serif" font-style="italic" font-size="8.8">ε</tspan><tspan font-size="6.3" dy="3.6" letter-spacing="0.15" dx="0.4">mac</tspan><tspan dy="-3.6" font-size="8.2"> [–]</tspan></text>
<text transform="translate(328.20,174.10) scale(1.1,1)" font-size="12.3" letter-spacing="0.5" text-anchor="middle" fill="#111" style="font-family:'Liberation Serif',serif">(<tspan font-size="11.1" font-weight="bold">b</tspan>)</text>
<clipPath id="cc"><rect x="31.50" y="213.70" width="146.70" height="109.70"/></clipPath>
<g clip-path="url(#cc)"><path d="M32.0,231.7l1.4,1.8l-1.4,1.8l-1.4,-1.8z" fill="#ff0000"/><path d="M32.8,233.6l1.4,1.8l-1.4,1.8l-1.4,-1.8z" fill="#ff0000"/><path d="M33.8,233.1l1.4,1.8l-1.4,1.8l-1.4,-1.8z" fill="#ff0000"/><path d="M34.4,231.9l1.4,1.8l-1.4,1.8l-1.4,-1.8z" fill="#ff0000"/><path d="M35.2,234.2l1.4,1.8l-1.4,1.8l-1.4,-1.8z" fill="#ff0000"/><path d="M36.2,233.5l1.4,1.8l-1.4,1.8l-1.4,-1.8z" fill="#ff0000"/><path d="M37.3,233.4l1.4,1.8l-1.4,1.8l-1.4,-1.8z" fill="#ff0000"/><path d="M37.9,232.6l1.4,1.8l-1.4,1.8l-1.4,-1.8z" fill="#ff0000"/><path d="M39.1,232.5l1.4,1.8l-1.4,1.8l-1.4,-1.8z" fill="#ff0000"/><path d="M39.8,232.5l1.4,1.8l-1.4,1.8l-1.4,-1.8z" fill="#ff0000"/><path d="M40.4,232.7l1.4,1.8l-1.4,1.8l-1.4,-1.8z" fill="#ff0000"/><path d="M41.5,232.7l1.4,1.8l-1.4,1.8l-1.4,-1.8z" fill="#ff0000"/><path d="M42.4,231.6l1.4,1.8l-1.4,1.8l-1.4,-1.8z" fill="#ff0000"/><path d="M42.7,231.5l1.4,1.8l-1.4,1.8l-1.4,-1.8z" fill="#ff0000"/><path d="M43.7,231.0l1.4,1.8l-1.4,1.8l-1.4,-1.8z" fill="#ff0000"/><path d="M45.0,232.5l1.4,1.8l-1.4,1.8l-1.4,-1.8z" fill="#ff0000"/><path d="M45.4,232.2l1.4,1.8l-1.4,1.8l-1.4,-1.8z" fill="#ff0000"/><path d="M46.3,232.6l1.4,1.8l-1.4,1.8l-1.4,-1.8z" fill="#ff0000"/><path d="M47.4,232.2l1.4,1.8l-1.4,1.8l-1.4,-1.8z" fill="#ff0000"/><path d="M48.2,232.5l1.4,1.8l-1.4,1.8l-1.4,-1.8z" fill="#ff0000"/><path d="M49.0,231.2l1.4,1.8l-1.4,1.8l-1.4,-1.8z" fill="#ff0000"/><path d="M49.6,230.0l1.4,1.8l-1.4,1.8l-1.4,-1.8z" fill="#ff0000"/><path d="M50.4,229.8l1.4,1.8l-1.4,1.8l-1.4,-1.8z" fill="#ff0000"/><path d="M51.1,230.9l1.4,1.8l-1.4,1.8l-1.4,-1.8z" fill="#ff0000"/><path d="M52.0,229.7l1.4,1.8l-1.4,1.8l-1.4,-1.8z" fill="#ff0000"/><path d="M52.7,228.9l1.4,1.8l-1.4,1.8l-1.4,-1.8z" fill="#ff0000"/><path d="M32.7,230.7l1.3,1.6l-1.3,1.6l-1.3,-1.6z" fill="none" stroke="#ff0000" stroke-width="0.9"/><path d="M34.8,230.9l1.3,1.6l-1.3,1.6l-1.3,-1.6z" fill="none" stroke="#ff0000" stroke-width="0.9"/><path d="M36.3,231.3l1.3,1.6l-1.3,1.6l-1.3,-1.6z" fill="none" stroke="#ff0000" stroke-width="0.9"/><path d="M37.4,231.1l1.3,1.6l-1.3,1.6l-1.3,-1.6z" fill="none" stroke="#ff0000" stroke-width="0.9"/><path d="M38.9,230.7l1.3,1.6l-1.3,1.6l-1.3,-1.6z" fill="none" stroke="#ff0000" stroke-width="0.9"/><path d="M40.7,231.1l1.3,1.6l-1.3,1.6l-1.3,-1.6z" fill="none" stroke="#ff0000" stroke-width="0.9"/><path d="M42.1,230.6l1.3,1.6l-1.3,1.6l-1.3,-1.6z" fill="none" stroke="#ff0000" stroke-width="0.9"/><path d="M43.9,231.1l1.3,1.6l-1.3,1.6l-1.3,-1.6z" fill="none" stroke="#ff0000" stroke-width="0.9"/><path d="M45.5,230.8l1.3,1.6l-1.3,1.6l-1.3,-1.6z" fill="none" stroke="#ff0000" stroke-width="0.9"/><path d="M46.7,229.8l1.3,1.6l-1.3,1.6l-1.3,-1.6z" fill="none" stroke="#ff0000" stroke-width="0.9"/><path d="M48.7,229.3l1.3,1.6l-1.3,1.6l-1.3,-1.6z" fill="none" stroke="#ff0000" stroke-width="0.9"/><path d="M49.9,229.3l1.3,1.6l-1.3,1.6l-1.3,-1.6z" fill="none" stroke="#ff0000" stroke-width="0.9"/><circle cx="32.3" cy="228.5" r="1.5" fill="#aa0000"/><circle cx="32.8" cy="228.6" r="1.5" fill="#aa0000"/><circle cx="33.4" cy="228.6" r="1.5" fill="#aa0000"/><circle cx="34.2" cy="228.1" r="1.5" fill="#aa0000"/><circle cx="35.0" cy="228.6" r="1.5" fill="#aa0000"/><circle cx="35.6" cy="228.3" r="1.5" fill="#aa0000"/><circle cx="36.7" cy="227.8" r="1.5" fill="#aa0000"/><circle cx="36.9" cy="227.6" r="1.5" fill="#aa0000"/><circle cx="37.9" cy="228.4" r="1.5" fill="#aa0000"/><circle cx="38.9" cy="227.6" r="1.5" fill="#aa0000"/><circle cx="39.0" cy="228.0" r="1.5" fill="#aa0000"/><circle cx="39.8" cy="228.1" r="1.5" fill="#aa0000"/><circle cx="41.0" cy="227.3" r="1.5" fill="#aa0000"/><circle cx="41.4" cy="227.4" r="1.5" fill="#aa0000"/><circle cx="42.4" cy="227.4" r="1.5" fill="#aa0000"/><circle cx="43.0" cy="227.5" r="1.5" fill="#aa0000"/><circle cx="43.9" cy="227.6" r="1.5" fill="#aa0000"/><circle cx="44.4" cy="227.5" r="1.5" fill="#aa0000"/><circle cx="44.8" cy="227.1" r="1.5" fill="#aa0000"/><circle cx="45.6" cy="227.0" r="1.5" fill="#aa0000"/><circle cx="46.3" cy="226.2" r="1.5" fill="#aa0000"/><circle cx="47.0" cy="225.9" r="1.5" fill="#aa0000"/><circle cx="47.6" cy="225.6" r="1.5" fill="#aa0000"/><circle cx="48.4" cy="225.7" r="1.5" fill="#aa0000"/><circle cx="49.2" cy="225.1" r="1.5" fill="#aa0000"/><circle cx="50.0" cy="224.9" r="1.5" fill="#aa0000"/><circle cx="44.7" cy="227.0" r="1.4" fill="#aa0000"/><circle cx="45.9" cy="225.5" r="1.4" fill="#aa0000"/><circle cx="46.9" cy="224.2" r="1.4" fill="#aa0000"/><circle cx="47.8" cy="222.9" r="1.4" fill="#aa0000"/><circle cx="48.5" cy="221.8" r="1.4" fill="#aa0000"/><circle cx="49.8" cy="220.3" r="1.4" fill="#aa0000"/><path d="M45.4,225.9l1.5,1.9l-1.5,1.9l-1.5,-1.9z" fill="#ff0000"/><path d="M46.4,225.6l1.5,1.9l-1.5,1.9l-1.5,-1.9z" fill="#ff0000"/><path d="M47.7,225.4l1.5,1.9l-1.5,1.9l-1.5,-1.9z" fill="#ff0000"/><path d="M48.2,224.8l1.5,1.9l-1.5,1.9l-1.5,-1.9z" fill="#ff0000"/><path d="M49.5,224.3l1.5,1.9l-1.5,1.9l-1.5,-1.9z" fill="#ff0000"/><path d="M50.6,223.9l1.5,1.9l-1.5,1.9l-1.5,-1.9z" fill="#ff0000"/><path d="M51.3,223.8l1.5,1.9l-1.5,1.9l-1.5,-1.9z" fill="#ff0000"/><path d="M52.5,222.9l1.5,1.9l-1.5,1.9l-1.5,-1.9z" fill="#ff0000"/><path d="M53.2,223.0l1.5,1.9l-1.5,1.9l-1.5,-1.9z" fill="#ff0000"/><path d="M54.2,222.7l1.5,1.9l-1.5,1.9l-1.5,-1.9z" fill="#ff0000"/><circle cx="48.6" cy="221.4" r="1.1" fill="none" stroke="#ff0000" stroke-width="0.9"/><circle cx="49.7" cy="219.5" r="1.1" fill="none" stroke="#ff0000" stroke-width="0.9"/><circle cx="50.7" cy="217.8" r="1.1" fill="none" stroke="#ff0000" stroke-width="0.9"/><circle cx="50.8" cy="218.2" r="1.2" fill="#ff0000"/><path d="M32.1,249.0l1.6,2.0l-1.6,2.0l-1.6,-2.0z" fill="#00a000"/><path d="M32.8,249.2l1.6,2.0l-1.6,2.0l-1.6,-2.0z" fill="#00a000"/><path d="M33.3,248.6l1.6,2.0l-1.6,2.0l-1.6,-2.0z" fill="#00a000"/><path d="M34.1,249.2l1.6,2.0l-1.6,2.0l-1.6,-2.0z" fill="#00a000"/><path d="M34.3,248.6l1.6,2.0l-1.6,2.0l-1.6,-2.0z" fill="#00a000"/><path d="M35.3,249.4l1.6,2.0l-1.6,2.0l-1.6,-2.0z" fill="#00a000"/><path d="M35.4,248.4l1.6,2.0l-1.6,2.0l-1.6,-2.0z" fill="#00a000"/><path d="M36.5,247.2l1.6,2.0l-1.6,2.0l-1.6,-2.0z" fill="#00a000"/><path d="M36.9,249.7l1.6,2.0l-1.6,2.0l-1.6,-2.0z" fill="#00a000"/><path d="M37.6,249.5l1.6,2.0l-1.6,2.0l-1.6,-2.0z" fill="#00a000"/><path d="M37.8,249.9l1.6,2.0l-1.6,2.0l-1.6,-2.0z" fill="#00a000"/><path d="M38.5,249.8l1.6,2.0l-1.6,2.0l-1.6,-2.0z" fill="#00a000"/><path d="M38.9,247.7l1.6,2.0l-1.6,2.0l-1.6,-2.0z" fill="#00a000"/><path d="M39.5,248.3l1.6,2.0l-1.6,2.0l-1.6,-2.0z" fill="#00a000"/><path d="M40.2,249.7l1.6,2.0l-1.6,2.0l-1.6,-2.0z" fill="#00a000"/><path d="M40.6,249.2l1.6,2.0l-1.6,2.0l-1.6,-2.0z" fill="#00a000"/><path d="M41.7,250.3l1.6,2.0l-1.6,2.0l-1.6,-2.0z" fill="#00a000"/><path d="M41.7,247.7l1.6,2.0l-1.6,2.0l-1.6,-2.0z" fill="#00a000"/><path d="M42.3,248.4l1.6,2.0l-1.6,2.0l-1.6,-2.0z" fill="#00a000"/><path d="M43.3,249.6l1.6,2.0l-1.6,2.0l-1.6,-2.0z" fill="#00a000"/><path d="M43.7,249.5l1.6,2.0l-1.6,2.0l-1.6,-2.0z" fill="#00a000"/><path d="M44.4,248.4l1.6,2.0l-1.6,2.0l-1.6,-2.0z" fill="#00a000"/><path d="M44.9,249.4l1.6,2.0l-1.6,2.0l-1.6,-2.0z" fill="#00a000"/><path d="M45.4,248.2l1.6,2.0l-1.6,2.0l-1.6,-2.0z" fill="#00a000"/><path d="M46.0,248.0l1.6,2.0l-1.6,2.0l-1.6,-2.0z" fill="#00a000"/><path d="M46.3,248.0l1.6,2.0l-1.6,2.0l-1.6,-2.0z" fill="#00a000"/><path d="M47.0,248.2l1.6,2.0l-1.6,2.0l-1.6,-2.0z" fill="#00a000"/><path d="M47.9,249.0l1.6,2.0l-1.6,2.0l-1.6,-2.0z" fill="#00a000"/><path d="M48.1,248.0l1.6,2.0l-1.6,2.0l-1.6,-2.0z" fill="#00a000"/><path d="M48.9,249.3l1.6,2.0l-1.6,2.0l-1.6,-2.0z" fill="#00a000"/><path d="M49.4,249.3l1.6,2.0l-1.6,2.0l-1.6,-2.0z" fill="#00a000"/><path d="M49.8,248.2l1.6,2.0l-1.6,2.0l-1.6,-2.0z" fill="#00a000"/><path d="M50.3,249.5l1.6,2.0l-1.6,2.0l-1.6,-2.0z" fill="#00a000"/><path d="M51.3,250.3l1.6,2.0l-1.6,2.0l-1.6,-2.0z" fill="#00a000"/><path d="M32.7,247.6l1.5,1.9l-1.5,1.9l-1.5,-1.9z" fill="none" stroke="#00a000" stroke-width="0.9"/><path d="M33.9,247.7l1.5,1.9l-1.5,1.9l-1.5,-1.9z" fill="none" stroke="#00a000" stroke-width="0.9"/><path d="M35.1,247.2l1.5,1.9l-1.5,1.9l-1.5,-1.9z" fill="none" stroke="#00a000" stroke-width="0.9"/><path d="M36.8,247.6l1.5,1.9l-1.5,1.9l-1.5,-1.9z" fill="none" stroke="#00a000" stroke-width="0.9"/><path d="M38.2,247.6l1.5,1.9l-1.5,1.9l-1.5,-1.9z" fill="none" stroke="#00a000" stroke-width="0.9"/><path d="M39.4,247.0l1.5,1.9l-1.5,1.9l-1.5,-1.9z" fill="none" stroke="#00a000" stroke-width="0.9"/><path d="M40.9,246.6l1.5,1.9l-1.5,1.9l-1.5,-1.9z" fill="none" stroke="#00a000" stroke-width="0.9"/><path d="M41.9,248.3l1.5,1.9l-1.5,1.9l-1.5,-1.9z" fill="none" stroke="#00a000" stroke-width="0.9"/><path d="M43.1,246.7l1.5,1.9l-1.5,1.9l-1.5,-1.9z" fill="none" stroke="#00a000" stroke-width="0.9"/><path d="M44.8,247.4l1.5,1.9l-1.5,1.9l-1.5,-1.9z" fill="none" stroke="#00a000" stroke-width="0.9"/><path d="M45.9,247.2l1.5,1.9l-1.5,1.9l-1.5,-1.9z" fill="none" stroke="#00a000" stroke-width="0.9"/><path d="M47.5,248.1l1.5,1.9l-1.5,1.9l-1.5,-1.9z" fill="none" stroke="#00a000" stroke-width="0.9"/><path d="M48.5,248.6l1.5,1.9l-1.5,1.9l-1.5,-1.9z" fill="none" stroke="#00a000" stroke-width="0.9"/><path d="M50.2,248.1l1.5,1.9l-1.5,1.9l-1.5,-1.9z" fill="none" stroke="#00a000" stroke-width="0.9"/><path d="M32.5,251.2l1.4,1.8l-1.4,1.8l-1.4,-1.8z" fill="#00a000"/><path d="M33.6,250.8l1.4,1.8l-1.4,1.8l-1.4,-1.8z" fill="#00a000"/><path d="M35.3,251.4l1.4,1.8l-1.4,1.8l-1.4,-1.8z" fill="#00a000"/><path d="M36.7,251.1l1.4,1.8l-1.4,1.8l-1.4,-1.8z" fill="#00a000"/><path d="M38.9,251.2l1.4,1.8l-1.4,1.8l-1.4,-1.8z" fill="#00a000"/><path d="M40.3,251.2l1.4,1.8l-1.4,1.8l-1.4,-1.8z" fill="#00a000"/><path d="M42.0,250.8l1.4,1.8l-1.4,1.8l-1.4,-1.8z" fill="#00a000"/><path d="M43.2,250.3l1.4,1.8l-1.4,1.8l-1.4,-1.8z" fill="#00a000"/><path d="M44.9,250.7l1.4,1.8l-1.4,1.8l-1.4,-1.8z" fill="#00a000"/><path d="M46.8,250.2l1.4,1.8l-1.4,1.8l-1.4,-1.8z" fill="#00a000"/><path d="M48.4,250.4l1.4,1.8l-1.4,1.8l-1.4,-1.8z" fill="#00a000"/><path d="M49.6,251.1l1.4,1.8l-1.4,1.8l-1.4,-1.8z" fill="#00a000"/><path d="M51.3,250.4l1.4,1.8l-1.4,1.8l-1.4,-1.8z" fill="#00a000"/><path d="M53.2,250.1l1.4,1.8l-1.4,1.8l-1.4,-1.8z" fill="#00a000"/><path d="M44.5,244.3l1.6,2.0l-1.6,2.0l-1.6,-2.0z" fill="#00a000"/><path d="M50.4,238.9l1.6,2.0l-1.6,2.0l-1.6,-2.0z" fill="#00a000"/><path d="M54.0,241.6l1.6,2.0l-1.6,2.0l-1.6,-2.0z" fill="#00a000"/><path d="M52.4,246.0l1.6,2.0l-1.6,2.0l-1.6,-2.0z" fill="#00a000"/><path d="M47.5,244.0l1.6,2.0l-1.6,2.0l-1.6,-2.0z" fill="#00a000"/><path d="M40.0,245.6l1.6,2.0l-1.6,2.0l-1.6,-2.0z" fill="#00a000"/><path d="M36.5,246.2l1.6,2.0l-1.6,2.0l-1.6,-2.0z" fill="#00a000"/><circle cx="32.2" cy="258.9" r="1.4" fill="#007000"/><circle cx="33.0" cy="258.0" r="1.4" fill="#007000"/><circle cx="33.8" cy="257.7" r="1.4" fill="#007000"/><circle cx="35.0" cy="258.5" r="1.4" fill="#007000"/><circle cx="35.6" cy="258.1" r="1.4" fill="#007000"/><circle cx="36.7" cy="258.3" r="1.4" fill="#007000"/><circle cx="37.6" cy="257.9" r="1.4" fill="#007000"/><circle cx="38.3" cy="258.0" r="1.4" fill="#007000"/><circle cx="39.1" cy="257.9" r="1.4" fill="#007000"/><circle cx="40.3" cy="257.5" r="1.4" fill="#007000"/><circle cx="41.3" cy="258.0" r="1.4" fill="#007000"/><circle cx="41.7" cy="257.9" r="1.4" fill="#007000"/><circle cx="42.6" cy="258.3" r="1.4" fill="#007000"/><circle cx="43.4" cy="257.7" r="1.4" fill="#007000"/><circle cx="44.5" cy="257.9" r="1.4" fill="#007000"/><circle cx="45.4" cy="257.3" r="1.4" fill="#007000"/><circle cx="46.2" cy="257.4" r="1.4" fill="#007000"/><circle cx="47.4" cy="257.4" r="1.4" fill="#007000"/><circle cx="48.4" cy="257.5" r="1.4" fill="#007000"/><circle cx="48.9" cy="257.5" r="1.4" fill="#007000"/><circle cx="50.0" cy="257.4" r="1.4" fill="#007000"/><circle cx="51.1" cy="257.3" r="1.4" fill="#007000"/><circle cx="51.6" cy="256.9" r="1.4" fill="#007000"/><circle cx="52.3" cy="256.9" r="1.4" fill="#007000"/><circle cx="53.4" cy="256.8" r="1.4" fill="#007000"/><circle cx="54.5" cy="256.3" r="1.4" fill="#007000"/><circle cx="32.3" cy="293.3" r="1.4" fill="#0000aa"/><circle cx="32.9" cy="293.2" r="1.4" fill="#0000aa"/><circle cx="34.0" cy="293.0" r="1.4" fill="#0000aa"/><circle cx="34.8" cy="293.1" r="1.4" fill="#0000aa"/><circle cx="35.9" cy="293.2" r="1.4" fill="#0000aa"/><circle cx="36.3" cy="292.4" r="1.4" fill="#0000aa"/><circle cx="37.3" cy="292.9" r="1.4" fill="#0000aa"/><circle cx="38.2" cy="292.8" r="1.4" fill="#0000aa"/><circle cx="39.4" cy="292.9" r="1.4" fill="#0000aa"/><circle cx="40.4" cy="293.2" r="1.4" fill="#0000aa"/><circle cx="41.0" cy="293.3" r="1.4" fill="#0000aa"/><circle cx="41.7" cy="293.5" r="1.4" fill="#0000aa"/><circle cx="43.0" cy="292.8" r="1.4" fill="#0000aa"/><circle cx="43.4" cy="293.4" r="1.4" fill="#0000aa"/><circle cx="44.6" cy="292.7" r="1.4" fill="#0000aa"/><circle cx="45.7" cy="292.7" r="1.4" fill="#0000aa"/><circle cx="46.2" cy="292.8" r="1.4" fill="#0000aa"/><circle cx="47.1" cy="292.8" r="1.4" fill="#0000aa"/><circle cx="48.3" cy="292.3" r="1.4" fill="#0000aa"/><circle cx="49.2" cy="292.3" r="1.4" fill="#0000aa"/><circle cx="49.8" cy="291.5" r="1.4" fill="#0000aa"/><circle cx="50.9" cy="291.1" r="1.4" fill="#0000aa"/><circle cx="51.7" cy="291.6" r="1.4" fill="#0000aa"/><circle cx="52.5" cy="290.7" r="1.4" fill="#0000aa"/><circle cx="53.3" cy="290.4" r="1.4" fill="#0000aa"/><circle cx="54.6" cy="290.9" r="1.4" fill="#0000aa"/><circle cx="50.4" cy="289.6" r="1.5" fill="#0000aa"/><path d="M32.0,303.4l1.6,2.0l-1.6,2.0l-1.6,-2.0z" fill="#0000ff"/><path d="M33.3,304.1l1.6,2.0l-1.6,2.0l-1.6,-2.0z" fill="#0000ff"/><path d="M33.9,303.1l1.6,2.0l-1.6,2.0l-1.6,-2.0z" fill="#0000ff"/><path d="M35.1,303.2l1.6,2.0l-1.6,2.0l-1.6,-2.0z" fill="#0000ff"/><path d="M36.1,303.7l1.6,2.0l-1.6,2.0l-1.6,-2.0z" fill="#0000ff"/><path d="M36.8,303.2l1.6,2.0l-1.6,2.0l-1.6,-2.0z" fill="#0000ff"/><path d="M37.9,302.8l1.6,2.0l-1.6,2.0l-1.6,-2.0z" fill="#0000ff"/><path d="M38.5,303.8l1.6,2.0l-1.6,2.0l-1.6,-2.0z" fill="#0000ff"/><path d="M39.6,302.8l1.6,2.0l-1.6,2.0l-1.6,-2.0z" fill="#0000ff"/><path d="M40.3,303.3l1.6,2.0l-1.6,2.0l-1.6,-2.0z" fill="#0000ff"/><path d="M41.1,302.8l1.6,2.0l-1.6,2.0l-1.6,-2.0z" fill="#0000ff"/><path d="M42.0,303.3l1.6,2.0l-1.6,2.0l-1.6,-2.0z" fill="#0000ff"/><path d="M43.3,303.3l1.6,2.0l-1.6,2.0l-1.6,-2.0z" fill="#0000ff"/><path d="M43.7,303.6l1.6,2.0l-1.6,2.0l-1.6,-2.0z" fill="#0000ff"/><path d="M45.1,303.4l1.6,2.0l-1.6,2.0l-1.6,-2.0z" fill="#0000ff"/><path d="M45.7,303.5l1.6,2.0l-1.6,2.0l-1.6,-2.0z" fill="#0000ff"/><path d="M46.4,303.5l1.6,2.0l-1.6,2.0l-1.6,-2.0z" fill="#0000ff"/><path d="M47.7,302.9l1.6,2.0l-1.6,2.0l-1.6,-2.0z" fill="#0000ff"/><path d="M48.6,302.9l1.6,2.0l-1.6,2.0l-1.6,-2.0z" fill="#0000ff"/><path d="M49.1,303.0l1.6,2.0l-1.6,2.0l-1.6,-2.0z" fill="#0000ff"/><path d="M50.5,303.2l1.6,2.0l-1.6,2.0l-1.6,-2.0z" fill="#0000ff"/><path d="M51.4,303.5l1.6,2.0l-1.6,2.0l-1.6,-2.0z" fill="#0000ff"/><path d="M52.3,303.3l1.6,2.0l-1.6,2.0l-1.6,-2.0z" fill="#0000ff"/><path d="M53.2,303.6l1.6,2.0l-1.6,2.0l-1.6,-2.0z" fill="#0000ff"/><path d="M53.7,303.3l1.6,2.0l-1.6,2.0l-1.6,-2.0z" fill="#0000ff"/><path d="M54.6,304.3l1.6,2.0l-1.6,2.0l-1.6,-2.0z" fill="#0000ff"/><path d="M40.2,303.2l1.5,1.9l-1.5,1.9l-1.5,-1.9z" fill="none" stroke="#0000ff" stroke-width="0.9"/><path d="M41.3,302.7l1.5,1.9l-1.5,1.9l-1.5,-1.9z" fill="none" stroke="#0000ff" stroke-width="0.9"/><path d="M42.3,301.6l1.5,1.9l-1.5,1.9l-1.5,-1.9z" fill="none" stroke="#0000ff" stroke-width="0.9"/><path d="M43.4,301.9l1.5,1.9l-1.5,1.9l-1.5,-1.9z" fill="none" stroke="#0000ff" stroke-width="0.9"/><path d="M44.6,301.1l1.5,1.9l-1.5,1.9l-1.5,-1.9z" fill="none" stroke="#0000ff" stroke-width="0.9"/><path d="M45.9,300.2l1.5,1.9l-1.5,1.9l-1.5,-1.9z" fill="none" stroke="#0000ff" stroke-width="0.9"/><path d="M47.1,299.7l1.5,1.9l-1.5,1.9l-1.5,-1.9z" fill="none" stroke="#0000ff" stroke-width="0.9"/><path d="M48.3,299.0l1.5,1.9l-1.5,1.9l-1.5,-1.9z" fill="none" stroke="#0000ff" stroke-width="0.9"/><path d="M49.5,298.3l1.5,1.9l-1.5,1.9l-1.5,-1.9z" fill="none" stroke="#0000ff" stroke-width="0.9"/><path d="M51.1,297.2l1.5,1.9l-1.5,1.9l-1.5,-1.9z" fill="none" stroke="#0000ff" stroke-width="0.9"/></g>
<path d="M31.80,323.40 C31.90,322.93 31.95,322.22 32.40,320.60 C32.85,318.98 33.80,315.98 34.50,313.70 C35.20,311.42 35.97,309.15 36.60,306.90 C37.23,304.65 37.58,302.53 38.30,300.20 C39.02,297.87 40.07,294.82 40.90,292.90 C41.73,290.98 42.37,290.07 43.30,288.70 C44.23,287.33 45.45,285.77 46.50,284.70 C47.55,283.63 48.55,282.82 49.60,282.30 C50.65,281.78 51.73,281.63 52.80,281.60 C53.87,281.57 54.80,281.85 56.00,282.10 C57.20,282.35 57.97,282.62 60.00,283.10 C62.03,283.58 65.37,284.43 68.20,285.00 C71.03,285.57 73.97,286.08 77.00,286.50 C80.03,286.92 81.82,287.15 86.40,287.50 C90.98,287.85 98.45,288.35 104.50,288.60 C110.55,288.85 115.12,288.97 122.70,289.00 C130.28,289.03 140.75,288.87 150.00,288.80 C159.25,288.73 173.50,288.63 178.20,288.60" fill="none" stroke="#000" stroke-width="1.3"/>
<rect x="31.50" y="213.70" width="146.70" height="109.70" fill="none" stroke="#1a1a1a" stroke-width="1.1"/>
<path d="M31.50,323.40v-1.5M31.50,213.70v1.5M68.17,323.40v-1.5M68.17,213.70v1.5M104.85,323.40v-1.5M104.85,213.70v1.5M141.53,323.40v-1.5M141.53,213.70v1.5M178.20,323.40v-1.5M178.20,213.70v1.5M31.50,323.40h1.5M31.50,301.46h1.5M31.50,279.52h1.5M31.50,257.58h1.5M31.50,235.64h1.5M31.50,213.70h1.5M178.20,323.40h-1.5M178.20,292.06h-1.5M178.20,260.71h-1.5M178.20,229.37h-1.5" stroke="#1a1a1a" stroke-width="0.8" fill="none"/>
<g font-size="8.3" fill="#000" stroke="#000" stroke-width="0.08"><text transform="translate(31.50,332.10) scale(0.900,1)" text-anchor="middle">0</text><text transform="translate(68.17,332.10) scale(0.900,1)" text-anchor="middle">0.1</text><text transform="translate(104.85,332.10) scale(0.900,1)" text-anchor="middle">0.2</text><text transform="translate(141.53,332.10) scale(0.900,1)" text-anchor="middle">0.3</text><text transform="translate(178.20,332.10) scale(0.900,1)" text-anchor="middle">0.4</text><text transform="translate(30.60,326.40) scale(0.900,1)" text-anchor="end">0</text><text transform="translate(30.60,304.46) scale(0.900,1)" text-anchor="end">5</text><text transform="translate(30.60,282.52) scale(0.900,1)" text-anchor="end">10</text><text transform="translate(30.60,260.58) scale(0.900,1)" text-anchor="end">15</text><text transform="translate(30.60,238.64) scale(0.900,1)" text-anchor="end">20</text><text transform="translate(30.60,216.70) scale(0.900,1)" text-anchor="end">25</text><text transform="translate(179.40,326.40) scale(0.900,1)" text-anchor="start">0</text><text transform="translate(179.40,295.06) scale(0.900,1)" text-anchor="start">10</text><text transform="translate(179.40,263.71) scale(0.900,1)" text-anchor="start">20</text><text transform="translate(179.40,232.37) scale(0.900,1)" text-anchor="start">30</text></g>
<text transform="translate(104.85,207.90) scale(0.93,1)" font-size="8.4" text-anchor="middle" fill="#000" stroke="#000" stroke-width="0.08">β 80°C</text>
<text transform="translate(13.80,268.85) rotate(-90)" font-size="8.4" letter-spacing="0.25" text-anchor="middle" fill="#000" stroke="#000" stroke-width="0.08">L [nm]</text>
<text transform="translate(197.20,268.55) rotate(-90)" font-size="8.6" letter-spacing="0.3" text-anchor="middle" fill="#000" stroke="#000" stroke-width="0.08"><tspan font-family="'Liberation Serif',serif" font-size="10">σ</tspan><tspan font-size="6.2" dy="2.6">e</tspan><tspan dy="-2.6"> [MPa]</tspan></text>
<text x="105.15" y="342.80" font-size="8.3" text-anchor="middle" fill="#111"><tspan font-family="'Liberation Serif',serif" font-style="italic" font-size="8.8">ε</tspan><tspan font-size="6.3" dy="3.6" letter-spacing="0.15" dx="0.4">mac</tspan><tspan dy="-3.6" font-size="8.2"> [–]</tspan></text>
<text transform="translate(104.25,369.10) scale(1.1,1)" font-size="12.3" letter-spacing="0.5" text-anchor="middle" fill="#111" style="font-family:'Liberation Serif',serif">(<tspan font-size="11.1" font-weight="bold">c</tspan>)</text>
<clipPath id="cd"><rect x="256.90" y="213.80" width="146.60" height="109.60"/></clipPath>
<g clip-path="url(#cd)"><path d="M257.8,227.5l1.4,1.8l-1.4,1.8l-1.4,-1.8z" fill="#ff0000"/><path d="M258.2,227.1l1.4,1.8l-1.4,1.8l-1.4,-1.8z" fill="#ff0000"/><path d="M259.3,227.6l1.4,1.8l-1.4,1.8l-1.4,-1.8z" fill="#ff0000"/><path d="M259.8,227.2l1.4,1.8l-1.4,1.8l-1.4,-1.8z" fill="#ff0000"/><path d="M260.5,226.9l1.4,1.8l-1.4,1.8l-1.4,-1.8z" fill="#ff0000"/><path d="M261.6,227.8l1.4,1.8l-1.4,1.8l-1.4,-1.8z" fill="#ff0000"/><path d="M261.9,227.6l1.4,1.8l-1.4,1.8l-1.4,-1.8z" fill="#ff0000"/><path d="M262.5,227.4l1.4,1.8l-1.4,1.8l-1.4,-1.8z" fill="#ff0000"/><path d="M263.9,227.7l1.4,1.8l-1.4,1.8l-1.4,-1.8z" fill="#ff0000"/><path d="M264.0,226.7l1.4,1.8l-1.4,1.8l-1.4,-1.8z" fill="#ff0000"/><path d="M265.2,227.1l1.4,1.8l-1.4,1.8l-1.4,-1.8z" fill="#ff0000"/><path d="M265.6,226.7l1.4,1.8l-1.4,1.8l-1.4,-1.8z" fill="#ff0000"/><path d="M266.7,226.9l1.4,1.8l-1.4,1.8l-1.4,-1.8z" fill="#ff0000"/><path d="M267.1,227.1l1.4,1.8l-1.4,1.8l-1.4,-1.8z" fill="#ff0000"/><path d="M267.8,226.6l1.4,1.8l-1.4,1.8l-1.4,-1.8z" fill="#ff0000"/><path d="M268.8,226.4l1.4,1.8l-1.4,1.8l-1.4,-1.8z" fill="#ff0000"/><path d="M269.5,226.4l1.4,1.8l-1.4,1.8l-1.4,-1.8z" fill="#ff0000"/><path d="M269.9,226.5l1.4,1.8l-1.4,1.8l-1.4,-1.8z" fill="#ff0000"/><path d="M271.1,225.6l1.4,1.8l-1.4,1.8l-1.4,-1.8z" fill="#ff0000"/><path d="M271.7,225.9l1.4,1.8l-1.4,1.8l-1.4,-1.8z" fill="#ff0000"/><path d="M272.3,226.3l1.4,1.8l-1.4,1.8l-1.4,-1.8z" fill="#ff0000"/><path d="M273.4,226.4l1.4,1.8l-1.4,1.8l-1.4,-1.8z" fill="#ff0000"/><path d="M273.6,226.2l1.4,1.8l-1.4,1.8l-1.4,-1.8z" fill="#ff0000"/><path d="M274.4,225.6l1.4,1.8l-1.4,1.8l-1.4,-1.8z" fill="#ff0000"/><path d="M275.3,226.2l1.4,1.8l-1.4,1.8l-1.4,-1.8z" fill="#ff0000"/><path d="M276.0,225.6l1.4,1.8l-1.4,1.8l-1.4,-1.8z" fill="#ff0000"/><path d="M276.8,225.1l1.4,1.8l-1.4,1.8l-1.4,-1.8z" fill="#ff0000"/><path d="M277.5,225.1l1.4,1.8l-1.4,1.8l-1.4,-1.8z" fill="#ff0000"/><path d="M278.3,224.3l1.4,1.8l-1.4,1.8l-1.4,-1.8z" fill="#ff0000"/><path d="M278.9,224.7l1.4,1.8l-1.4,1.8l-1.4,-1.8z" fill="#ff0000"/><path d="M279.9,224.8l1.4,1.8l-1.4,1.8l-1.4,-1.8z" fill="#ff0000"/><path d="M280.6,224.5l1.4,1.8l-1.4,1.8l-1.4,-1.8z" fill="#ff0000"/><path d="M281.2,224.1l1.4,1.8l-1.4,1.8l-1.4,-1.8z" fill="#ff0000"/><path d="M282.1,224.0l1.4,1.8l-1.4,1.8l-1.4,-1.8z" fill="#ff0000"/><path d="M282.6,224.0l1.4,1.8l-1.4,1.8l-1.4,-1.8z" fill="#ff0000"/><path d="M283.6,223.9l1.4,1.8l-1.4,1.8l-1.4,-1.8z" fill="#ff0000"/><path d="M284.0,224.0l1.4,1.8l-1.4,1.8l-1.4,-1.8z" fill="#ff0000"/><path d="M285.0,223.5l1.4,1.8l-1.4,1.8l-1.4,-1.8z" fill="#ff0000"/><path d="M285.4,223.1l1.4,1.8l-1.4,1.8l-1.4,-1.8z" fill="#ff0000"/><path d="M286.2,222.7l1.4,1.8l-1.4,1.8l-1.4,-1.8z" fill="#ff0000"/><path d="M286.9,223.0l1.4,1.8l-1.4,1.8l-1.4,-1.8z" fill="#ff0000"/><path d="M287.7,222.7l1.4,1.8l-1.4,1.8l-1.4,-1.8z" fill="#ff0000"/><path d="M288.7,222.8l1.4,1.8l-1.4,1.8l-1.4,-1.8z" fill="#ff0000"/><path d="M289.0,221.9l1.4,1.8l-1.4,1.8l-1.4,-1.8z" fill="#ff0000"/><path d="M289.9,221.4l1.4,1.8l-1.4,1.8l-1.4,-1.8z" fill="#ff0000"/><path d="M258.0,231.5l1.4,1.8l-1.4,1.8l-1.4,-1.8z" fill="#ff0000"/><path d="M258.4,230.9l1.4,1.8l-1.4,1.8l-1.4,-1.8z" fill="#ff0000"/><path d="M259.0,231.3l1.4,1.8l-1.4,1.8l-1.4,-1.8z" fill="#ff0000"/><path d="M259.7,231.3l1.4,1.8l-1.4,1.8l-1.4,-1.8z" fill="#ff0000"/><path d="M260.5,231.8l1.4,1.8l-1.4,1.8l-1.4,-1.8z" fill="#ff0000"/><path d="M261.5,231.5l1.4,1.8l-1.4,1.8l-1.4,-1.8z" fill="#ff0000"/><path d="M262.2,231.1l1.4,1.8l-1.4,1.8l-1.4,-1.8z" fill="#ff0000"/><path d="M262.8,231.5l1.4,1.8l-1.4,1.8l-1.4,-1.8z" fill="#ff0000"/><path d="M263.3,231.3l1.4,1.8l-1.4,1.8l-1.4,-1.8z" fill="#ff0000"/><path d="M264.4,231.4l1.4,1.8l-1.4,1.8l-1.4,-1.8z" fill="#ff0000"/><path d="M265.2,231.2l1.4,1.8l-1.4,1.8l-1.4,-1.8z" fill="#ff0000"/><path d="M265.8,231.8l1.4,1.8l-1.4,1.8l-1.4,-1.8z" fill="#ff0000"/><path d="M266.4,231.6l1.4,1.8l-1.4,1.8l-1.4,-1.8z" fill="#ff0000"/><path d="M267.4,232.0l1.4,1.8l-1.4,1.8l-1.4,-1.8z" fill="#ff0000"/><path d="M268.0,231.2l1.4,1.8l-1.4,1.8l-1.4,-1.8z" fill="#ff0000"/><path d="M268.7,230.8l1.4,1.8l-1.4,1.8l-1.4,-1.8z" fill="#ff0000"/><path d="M269.4,231.1l1.4,1.8l-1.4,1.8l-1.4,-1.8z" fill="#ff0000"/><path d="M270.1,231.3l1.4,1.8l-1.4,1.8l-1.4,-1.8z" fill="#ff0000"/><path d="M270.5,230.8l1.4,1.8l-1.4,1.8l-1.4,-1.8z" fill="#ff0000"/><path d="M271.6,231.4l1.4,1.8l-1.4,1.8l-1.4,-1.8z" fill="#ff0000"/><path d="M272.3,231.1l1.4,1.8l-1.4,1.8l-1.4,-1.8z" fill="#ff0000"/><path d="M272.9,231.3l1.4,1.8l-1.4,1.8l-1.4,-1.8z" fill="#ff0000"/><path d="M273.8,230.6l1.4,1.8l-1.4,1.8l-1.4,-1.8z" fill="#ff0000"/><path d="M274.7,231.1l1.4,1.8l-1.4,1.8l-1.4,-1.8z" fill="#ff0000"/><path d="M275.0,230.6l1.4,1.8l-1.4,1.8l-1.4,-1.8z" fill="#ff0000"/><path d="M275.8,230.4l1.4,1.8l-1.4,1.8l-1.4,-1.8z" fill="#ff0000"/><path d="M276.6,230.7l1.4,1.8l-1.4,1.8l-1.4,-1.8z" fill="#ff0000"/><path d="M277.4,230.5l1.4,1.8l-1.4,1.8l-1.4,-1.8z" fill="#ff0000"/><path d="M277.9,230.6l1.4,1.8l-1.4,1.8l-1.4,-1.8z" fill="#ff0000"/><path d="M278.8,229.5l1.4,1.8l-1.4,1.8l-1.4,-1.8z" fill="#ff0000"/><path d="M279.3,229.8l1.4,1.8l-1.4,1.8l-1.4,-1.8z" fill="#ff0000"/><path d="M280.4,229.7l1.4,1.8l-1.4,1.8l-1.4,-1.8z" fill="#ff0000"/><path d="M281.0,229.4l1.4,1.8l-1.4,1.8l-1.4,-1.8z" fill="#ff0000"/><path d="M281.7,229.2l1.4,1.8l-1.4,1.8l-1.4,-1.8z" fill="#ff0000"/><path d="M282.4,229.7l1.4,1.8l-1.4,1.8l-1.4,-1.8z" fill="#ff0000"/><path d="M283.3,229.2l1.4,1.8l-1.4,1.8l-1.4,-1.8z" fill="#ff0000"/><path d="M283.8,229.1l1.4,1.8l-1.4,1.8l-1.4,-1.8z" fill="#ff0000"/><path d="M284.9,228.5l1.4,1.8l-1.4,1.8l-1.4,-1.8z" fill="#ff0000"/><path d="M285.2,228.7l1.4,1.8l-1.4,1.8l-1.4,-1.8z" fill="#ff0000"/><path d="M286.0,228.3l1.4,1.8l-1.4,1.8l-1.4,-1.8z" fill="#ff0000"/><path d="M286.5,227.7l1.4,1.8l-1.4,1.8l-1.4,-1.8z" fill="#ff0000"/><path d="M287.6,227.4l1.4,1.8l-1.4,1.8l-1.4,-1.8z" fill="#ff0000"/><path d="M288.2,226.8l1.4,1.8l-1.4,1.8l-1.4,-1.8z" fill="#ff0000"/><path d="M289.1,226.3l1.4,1.8l-1.4,1.8l-1.4,-1.8z" fill="#ff0000"/><path d="M290.0,225.2l1.4,1.8l-1.4,1.8l-1.4,-1.8z" fill="#ff0000"/><circle cx="257.9" cy="226.9" r="1.3" fill="#aa0000"/><circle cx="258.3" cy="226.8" r="1.3" fill="#aa0000"/><circle cx="259.2" cy="226.7" r="1.3" fill="#aa0000"/><circle cx="260.0" cy="226.4" r="1.3" fill="#aa0000"/><circle cx="260.5" cy="226.3" r="1.3" fill="#aa0000"/><circle cx="261.0" cy="226.5" r="1.3" fill="#aa0000"/><circle cx="261.9" cy="226.2" r="1.3" fill="#aa0000"/><circle cx="262.7" cy="226.1" r="1.3" fill="#aa0000"/><circle cx="263.1" cy="225.8" r="1.3" fill="#aa0000"/><circle cx="264.0" cy="226.0" r="1.3" fill="#aa0000"/><circle cx="264.5" cy="225.9" r="1.3" fill="#aa0000"/><circle cx="265.5" cy="225.6" r="1.3" fill="#aa0000"/><circle cx="265.9" cy="225.7" r="1.3" fill="#aa0000"/><circle cx="266.6" cy="225.3" r="1.3" fill="#aa0000"/><circle cx="267.5" cy="225.1" r="1.3" fill="#aa0000"/><circle cx="267.9" cy="225.0" r="1.3" fill="#aa0000"/><circle cx="268.8" cy="224.9" r="1.3" fill="#aa0000"/><circle cx="269.4" cy="224.5" r="1.3" fill="#aa0000"/><circle cx="270.1" cy="224.3" r="1.3" fill="#aa0000"/><circle cx="271.1" cy="224.3" r="1.3" fill="#aa0000"/><circle cx="271.7" cy="224.0" r="1.3" fill="#aa0000"/><circle cx="272.5" cy="223.9" r="1.3" fill="#aa0000"/><circle cx="273.1" cy="223.6" r="1.3" fill="#aa0000"/><circle cx="273.7" cy="223.6" r="1.3" fill="#aa0000"/><circle cx="274.6" cy="223.4" r="1.3" fill="#aa0000"/><circle cx="275.1" cy="223.2" r="1.3" fill="#aa0000"/><circle cx="275.5" cy="223.2" r="1.3" fill="#aa0000"/><circle cx="276.2" cy="223.0" r="1.3" fill="#aa0000"/><circle cx="276.9" cy="222.6" r="1.3" fill="#aa0000"/><circle cx="278.0" cy="222.4" r="1.3" fill="#aa0000"/><circle cx="278.7" cy="222.1" r="1.3" fill="#aa0000"/><circle cx="279.2" cy="222.1" r="1.3" fill="#aa0000"/><circle cx="280.1" cy="221.6" r="1.3" fill="#aa0000"/><circle cx="280.7" cy="221.7" r="1.3" fill="#aa0000"/><circle cx="281.3" cy="221.4" r="1.3" fill="#aa0000"/><circle cx="281.9" cy="221.3" r="1.3" fill="#aa0000"/><circle cx="282.8" cy="220.9" r="1.3" fill="#aa0000"/><circle cx="283.3" cy="220.9" r="1.3" fill="#aa0000"/><circle cx="283.8" cy="220.9" r="1.3" fill="#aa0000"/><circle cx="284.7" cy="220.6" r="1.3" fill="#aa0000"/><circle cx="285.2" cy="220.4" r="1.3" fill="#aa0000"/><circle cx="286.1" cy="219.8" r="1.3" fill="#aa0000"/><circle cx="287.0" cy="219.7" r="1.3" fill="#aa0000"/><circle cx="287.2" cy="219.8" r="1.3" fill="#aa0000"/><circle cx="288.2" cy="219.2" r="1.3" fill="#aa0000"/><circle cx="288.9" cy="219.2" r="1.3" fill="#aa0000"/><circle cx="289.5" cy="218.8" r="1.3" fill="#aa0000"/><circle cx="290.5" cy="218.8" r="1.3" fill="#aa0000"/><circle cx="291.0" cy="218.5" r="1.3" fill="#aa0000"/><circle cx="291.3" cy="218.1" r="1.3" fill="#aa0000"/><circle cx="268.3" cy="224.2" r="1.1" fill="none" stroke="#aa0000" stroke-width="0.9"/><circle cx="269.6" cy="224.5" r="1.1" fill="none" stroke="#aa0000" stroke-width="0.9"/><circle cx="271.4" cy="224.0" r="1.1" fill="none" stroke="#aa0000" stroke-width="0.9"/><circle cx="273.3" cy="224.2" r="1.1" fill="none" stroke="#aa0000" stroke-width="0.9"/><circle cx="274.8" cy="223.8" r="1.1" fill="none" stroke="#aa0000" stroke-width="0.9"/><circle cx="276.4" cy="223.7" r="1.1" fill="none" stroke="#aa0000" stroke-width="0.9"/><circle cx="278.1" cy="223.1" r="1.1" fill="none" stroke="#aa0000" stroke-width="0.9"/><circle cx="279.9" cy="222.9" r="1.1" fill="none" stroke="#aa0000" stroke-width="0.9"/><circle cx="281.5" cy="222.5" r="1.1" fill="none" stroke="#aa0000" stroke-width="0.9"/><circle cx="283.2" cy="222.0" r="1.1" fill="none" stroke="#aa0000" stroke-width="0.9"/><circle cx="284.8" cy="221.8" r="1.1" fill="none" stroke="#aa0000" stroke-width="0.9"/><circle cx="286.8" cy="221.1" r="1.1" fill="none" stroke="#aa0000" stroke-width="0.9"/><circle cx="288.2" cy="221.0" r="1.1" fill="none" stroke="#aa0000" stroke-width="0.9"/><circle cx="290.0" cy="220.6" r="1.1" fill="none" stroke="#aa0000" stroke-width="0.9"/><path d="M257.9,252.3l1.6,2.0l-1.6,2.0l-1.6,-2.0z" fill="#00a000"/><path d="M258.4,252.2l1.6,2.0l-1.6,2.0l-1.6,-2.0z" fill="#00a000"/><path d="M259.3,252.7l1.6,2.0l-1.6,2.0l-1.6,-2.0z" fill="#00a000"/><path d="M260.1,252.4l1.6,2.0l-1.6,2.0l-1.6,-2.0z" fill="#00a000"/><path d="M260.9,252.3l1.6,2.0l-1.6,2.0l-1.6,-2.0z" fill="#00a000"/><path d="M261.8,252.3l1.6,2.0l-1.6,2.0l-1.6,-2.0z" fill="#00a000"/><path d="M262.2,252.4l1.6,2.0l-1.6,2.0l-1.6,-2.0z" fill="#00a000"/><path d="M262.8,252.8l1.6,2.0l-1.6,2.0l-1.6,-2.0z" fill="#00a000"/><path d="M263.9,253.3l1.6,2.0l-1.6,2.0l-1.6,-2.0z" fill="#00a000"/><path d="M264.7,252.6l1.6,2.0l-1.6,2.0l-1.6,-2.0z" fill="#00a000"/><path d="M265.4,251.4l1.6,2.0l-1.6,2.0l-1.6,-2.0z" fill="#00a000"/><path d="M266.2,251.9l1.6,2.0l-1.6,2.0l-1.6,-2.0z" fill="#00a000"/><path d="M266.9,251.9l1.6,2.0l-1.6,2.0l-1.6,-2.0z" fill="#00a000"/><path d="M267.7,252.6l1.6,2.0l-1.6,2.0l-1.6,-2.0z" fill="#00a000"/><path d="M268.4,253.0l1.6,2.0l-1.6,2.0l-1.6,-2.0z" fill="#00a000"/><path d="M269.3,252.6l1.6,2.0l-1.6,2.0l-1.6,-2.0z" fill="#00a000"/><path d="M269.6,252.6l1.6,2.0l-1.6,2.0l-1.6,-2.0z" fill="#00a000"/><path d="M270.9,252.9l1.6,2.0l-1.6,2.0l-1.6,-2.0z" fill="#00a000"/><path d="M271.4,252.0l1.6,2.0l-1.6,2.0l-1.6,-2.0z" fill="#00a000"/><path d="M272.4,252.4l1.6,2.0l-1.6,2.0l-1.6,-2.0z" fill="#00a000"/><path d="M272.8,251.6l1.6,2.0l-1.6,2.0l-1.6,-2.0z" fill="#00a000"/><path d="M273.6,251.8l1.6,2.0l-1.6,2.0l-1.6,-2.0z" fill="#00a000"/><path d="M274.5,252.3l1.6,2.0l-1.6,2.0l-1.6,-2.0z" fill="#00a000"/><path d="M275.4,252.2l1.6,2.0l-1.6,2.0l-1.6,-2.0z" fill="#00a000"/><path d="M276.1,251.9l1.6,2.0l-1.6,2.0l-1.6,-2.0z" fill="#00a000"/><path d="M276.5,252.5l1.6,2.0l-1.6,2.0l-1.6,-2.0z" fill="#00a000"/><path d="M277.6,252.4l1.6,2.0l-1.6,2.0l-1.6,-2.0z" fill="#00a000"/><path d="M278.6,251.7l1.6,2.0l-1.6,2.0l-1.6,-2.0z" fill="#00a000"/><path d="M279.0,251.8l1.6,2.0l-1.6,2.0l-1.6,-2.0z" fill="#00a000"/><path d="M279.9,252.9l1.6,2.0l-1.6,2.0l-1.6,-2.0z" fill="#00a000"/><path d="M280.6,251.2l1.6,2.0l-1.6,2.0l-1.6,-2.0z" fill="#00a000"/><path d="M281.3,252.1l1.6,2.0l-1.6,2.0l-1.6,-2.0z" fill="#00a000"/><path d="M282.0,252.0l1.6,2.0l-1.6,2.0l-1.6,-2.0z" fill="#00a000"/><path d="M282.7,251.6l1.6,2.0l-1.6,2.0l-1.6,-2.0z" fill="#00a000"/><path d="M283.8,251.4l1.6,2.0l-1.6,2.0l-1.6,-2.0z" fill="#00a000"/><path d="M284.2,251.6l1.6,2.0l-1.6,2.0l-1.6,-2.0z" fill="#00a000"/><path d="M285.4,251.0l1.6,2.0l-1.6,2.0l-1.6,-2.0z" fill="#00a000"/><path d="M285.7,251.6l1.6,2.0l-1.6,2.0l-1.6,-2.0z" fill="#00a000"/><path d="M286.6,250.6l1.6,2.0l-1.6,2.0l-1.6,-2.0z" fill="#00a000"/><path d="M287.6,250.2l1.6,2.0l-1.6,2.0l-1.6,-2.0z" fill="#00a000"/><path d="M257.9,250.3l1.6,2.0l-1.6,2.0l-1.6,-2.0z" fill="#00a000"/><path d="M258.6,250.6l1.6,2.0l-1.6,2.0l-1.6,-2.0z" fill="#00a000"/><path d="M259.0,249.6l1.6,2.0l-1.6,2.0l-1.6,-2.0z" fill="#00a000"/><path d="M260.1,250.0l1.6,2.0l-1.6,2.0l-1.6,-2.0z" fill="#00a000"/><path d="M261.0,249.6l1.6,2.0l-1.6,2.0l-1.6,-2.0z" fill="#00a000"/><path d="M261.4,250.8l1.6,2.0l-1.6,2.0l-1.6,-2.0z" fill="#00a000"/><path d="M262.0,249.9l1.6,2.0l-1.6,2.0l-1.6,-2.0z" fill="#00a000"/><path d="M262.8,249.6l1.6,2.0l-1.6,2.0l-1.6,-2.0z" fill="#00a000"/><path d="M263.6,249.3l1.6,2.0l-1.6,2.0l-1.6,-2.0z" fill="#00a000"/><path d="M264.5,249.9l1.6,2.0l-1.6,2.0l-1.6,-2.0z" fill="#00a000"/><path d="M265.6,249.4l1.6,2.0l-1.6,2.0l-1.6,-2.0z" fill="#00a000"/><path d="M266.2,250.0l1.6,2.0l-1.6,2.0l-1.6,-2.0z" fill="#00a000"/><path d="M267.0,249.6l1.6,2.0l-1.6,2.0l-1.6,-2.0z" fill="#00a000"/><path d="M267.7,249.2l1.6,2.0l-1.6,2.0l-1.6,-2.0z" fill="#00a000"/><path d="M268.7,248.8l1.6,2.0l-1.6,2.0l-1.6,-2.0z" fill="#00a000"/><path d="M269.2,248.6l1.6,2.0l-1.6,2.0l-1.6,-2.0z" fill="#00a000"/><path d="M270.0,248.3l1.6,2.0l-1.6,2.0l-1.6,-2.0z" fill="#00a000"/><path d="M270.7,248.8l1.6,2.0l-1.6,2.0l-1.6,-2.0z" fill="#00a000"/><path d="M271.7,247.2l1.6,2.0l-1.6,2.0l-1.6,-2.0z" fill="#00a000"/><path d="M272.4,248.0l1.6,2.0l-1.6,2.0l-1.6,-2.0z" fill="#00a000"/><path d="M273.4,247.9l1.6,2.0l-1.6,2.0l-1.6,-2.0z" fill="#00a000"/><path d="M274.0,247.8l1.6,2.0l-1.6,2.0l-1.6,-2.0z" fill="#00a000"/><path d="M274.7,247.0l1.6,2.0l-1.6,2.0l-1.6,-2.0z" fill="#00a000"/><path d="M275.7,247.4l1.6,2.0l-1.6,2.0l-1.6,-2.0z" fill="#00a000"/><path d="M276.1,246.4l1.6,2.0l-1.6,2.0l-1.6,-2.0z" fill="#00a000"/><path d="M276.9,247.1l1.6,2.0l-1.6,2.0l-1.6,-2.0z" fill="#00a000"/><path d="M277.8,246.2l1.6,2.0l-1.6,2.0l-1.6,-2.0z" fill="#00a000"/><path d="M278.6,246.8l1.6,2.0l-1.6,2.0l-1.6,-2.0z" fill="#00a000"/><path d="M279.1,245.5l1.6,2.0l-1.6,2.0l-1.6,-2.0z" fill="#00a000"/><path d="M279.7,245.7l1.6,2.0l-1.6,2.0l-1.6,-2.0z" fill="#00a000"/><path d="M280.9,245.8l1.6,2.0l-1.6,2.0l-1.6,-2.0z" fill="#00a000"/><path d="M281.8,245.1l1.6,2.0l-1.6,2.0l-1.6,-2.0z" fill="#00a000"/><path d="M282.6,244.6l1.6,2.0l-1.6,2.0l-1.6,-2.0z" fill="#00a000"/><path d="M283.3,244.8l1.6,2.0l-1.6,2.0l-1.6,-2.0z" fill="#00a000"/><path d="M283.8,243.8l1.6,2.0l-1.6,2.0l-1.6,-2.0z" fill="#00a000"/><path d="M284.9,244.1l1.6,2.0l-1.6,2.0l-1.6,-2.0z" fill="#00a000"/><path d="M285.7,242.9l1.6,2.0l-1.6,2.0l-1.6,-2.0z" fill="#00a000"/><path d="M286.1,243.8l1.6,2.0l-1.6,2.0l-1.6,-2.0z" fill="#00a000"/><path d="M287.2,243.0l1.6,2.0l-1.6,2.0l-1.6,-2.0z" fill="#00a000"/><path d="M287.6,242.5l1.6,2.0l-1.6,2.0l-1.6,-2.0z" fill="#00a000"/><path d="M288.4,241.0l1.6,2.0l-1.6,2.0l-1.6,-2.0z" fill="#00a000"/><path d="M289.4,241.3l1.6,2.0l-1.6,2.0l-1.6,-2.0z" fill="#00a000"/><path d="M289.9,240.7l1.6,2.0l-1.6,2.0l-1.6,-2.0z" fill="#00a000"/><path d="M290.7,240.7l1.6,2.0l-1.6,2.0l-1.6,-2.0z" fill="#00a000"/><path d="M291.6,239.4l1.6,2.0l-1.6,2.0l-1.6,-2.0z" fill="#00a000"/><path d="M288.4,247.6l1.6,2.0l-1.6,2.0l-1.6,-2.0z" fill="#00a000"/><circle cx="257.5" cy="257.7" r="1.4" fill="#007000"/><circle cx="258.3" cy="257.3" r="1.4" fill="#007000"/><circle cx="259.4" cy="257.9" r="1.4" fill="#007000"/><circle cx="260.1" cy="257.3" r="1.4" fill="#007000"/><circle cx="260.9" cy="257.5" r="1.4" fill="#007000"/><circle cx="261.5" cy="257.5" r="1.4" fill="#007000"/><circle cx="262.3" cy="257.5" r="1.4" fill="#007000"/><circle cx="263.4" cy="257.4" r="1.4" fill="#007000"/><circle cx="264.1" cy="257.5" r="1.4" fill="#007000"/><circle cx="264.7" cy="257.5" r="1.4" fill="#007000"/><circle cx="266.1" cy="257.5" r="1.4" fill="#007000"/><circle cx="266.7" cy="257.6" r="1.4" fill="#007000"/><circle cx="267.6" cy="257.7" r="1.4" fill="#007000"/><circle cx="268.1" cy="257.8" r="1.4" fill="#007000"/><circle cx="269.0" cy="257.6" r="1.4" fill="#007000"/><circle cx="270.1" cy="257.5" r="1.4" fill="#007000"/><circle cx="270.8" cy="257.3" r="1.4" fill="#007000"/><circle cx="271.3" cy="257.5" r="1.4" fill="#007000"/><circle cx="272.4" cy="257.1" r="1.4" fill="#007000"/><circle cx="273.2" cy="257.7" r="1.4" fill="#007000"/><circle cx="274.0" cy="257.7" r="1.4" fill="#007000"/><circle cx="274.4" cy="257.5" r="1.4" fill="#007000"/><circle cx="275.3" cy="257.5" r="1.4" fill="#007000"/><circle cx="276.0" cy="257.6" r="1.4" fill="#007000"/><circle cx="277.1" cy="257.6" r="1.4" fill="#007000"/><circle cx="278.1" cy="257.3" r="1.4" fill="#007000"/><circle cx="278.9" cy="257.7" r="1.4" fill="#007000"/><circle cx="279.4" cy="257.5" r="1.4" fill="#007000"/><circle cx="280.1" cy="257.6" r="1.4" fill="#007000"/><circle cx="281.1" cy="257.4" r="1.4" fill="#007000"/><circle cx="282.0" cy="257.7" r="1.4" fill="#007000"/><circle cx="282.6" cy="257.3" r="1.4" fill="#007000"/><circle cx="283.5" cy="257.6" r="1.4" fill="#007000"/><circle cx="284.6" cy="257.8" r="1.4" fill="#007000"/><circle cx="285.0" cy="257.5" r="1.4" fill="#007000"/><circle cx="285.8" cy="257.4" r="1.4" fill="#007000"/><circle cx="287.0" cy="257.6" r="1.4" fill="#007000"/><circle cx="287.3" cy="257.1" r="1.4" fill="#007000"/><circle cx="288.5" cy="257.2" r="1.4" fill="#007000"/><circle cx="289.5" cy="257.0" r="1.4" fill="#007000"/><circle cx="289.7" cy="257.5" r="1.4" fill="#007000"/><circle cx="291.0" cy="257.5" r="1.4" fill="#007000"/><circle cx="291.7" cy="257.1" r="1.4" fill="#007000"/><circle cx="292.5" cy="257.5" r="1.4" fill="#007000"/><circle cx="293.0" cy="257.1" r="1.4" fill="#007000"/><circle cx="257.5" cy="260.4" r="1.4" fill="#007000"/><circle cx="258.5" cy="260.3" r="1.4" fill="#007000"/><circle cx="259.1" cy="260.4" r="1.4" fill="#007000"/><circle cx="260.3" cy="260.6" r="1.4" fill="#007000"/><circle cx="260.8" cy="260.3" r="1.4" fill="#007000"/><circle cx="261.6" cy="260.4" r="1.4" fill="#007000"/><circle cx="262.9" cy="260.2" r="1.4" fill="#007000"/><circle cx="263.7" cy="260.4" r="1.4" fill="#007000"/><circle cx="264.3" cy="260.2" r="1.4" fill="#007000"/><circle cx="264.9" cy="260.8" r="1.4" fill="#007000"/><circle cx="266.1" cy="260.1" r="1.4" fill="#007000"/><circle cx="266.8" cy="260.1" r="1.4" fill="#007000"/><circle cx="267.6" cy="260.8" r="1.4" fill="#007000"/><circle cx="268.5" cy="260.5" r="1.4" fill="#007000"/><circle cx="269.0" cy="260.5" r="1.4" fill="#007000"/><circle cx="270.3" cy="260.3" r="1.4" fill="#007000"/><circle cx="271.2" cy="260.4" r="1.4" fill="#007000"/><circle cx="271.6" cy="260.3" r="1.4" fill="#007000"/><circle cx="272.5" cy="260.5" r="1.4" fill="#007000"/><circle cx="273.6" cy="260.4" r="1.4" fill="#007000"/><circle cx="274.3" cy="260.6" r="1.4" fill="#007000"/><circle cx="275.0" cy="260.6" r="1.4" fill="#007000"/><circle cx="276.2" cy="260.5" r="1.4" fill="#007000"/><circle cx="276.5" cy="260.9" r="1.4" fill="#007000"/><circle cx="277.4" cy="260.4" r="1.4" fill="#007000"/><circle cx="278.4" cy="260.6" r="1.4" fill="#007000"/><circle cx="279.1" cy="260.9" r="1.4" fill="#007000"/><circle cx="280.0" cy="261.6" r="1.4" fill="#007000"/><circle cx="281.1" cy="260.7" r="1.4" fill="#007000"/><circle cx="281.5" cy="260.7" r="1.4" fill="#007000"/><circle cx="282.3" cy="261.4" r="1.4" fill="#007000"/><circle cx="283.5" cy="260.7" r="1.4" fill="#007000"/><circle cx="283.9" cy="261.6" r="1.4" fill="#007000"/><circle cx="285.2" cy="260.9" r="1.4" fill="#007000"/><circle cx="285.6" cy="261.1" r="1.4" fill="#007000"/><circle cx="286.9" cy="260.9" r="1.4" fill="#007000"/><circle cx="287.5" cy="261.1" r="1.4" fill="#007000"/><circle cx="288.6" cy="261.2" r="1.4" fill="#007000"/><circle cx="289.0" cy="261.5" r="1.4" fill="#007000"/><circle cx="289.8" cy="261.2" r="1.4" fill="#007000"/><circle cx="257.5" cy="291.5" r="1.4" fill="#0000aa"/><circle cx="258.3" cy="292.4" r="1.4" fill="#0000aa"/><circle cx="259.5" cy="292.2" r="1.4" fill="#0000aa"/><circle cx="260.3" cy="292.1" r="1.4" fill="#0000aa"/><circle cx="261.4" cy="292.4" r="1.4" fill="#0000aa"/><circle cx="262.4" cy="291.8" r="1.4" fill="#0000aa"/><circle cx="262.8" cy="291.9" r="1.4" fill="#0000aa"/><circle cx="264.1" cy="291.6" r="1.4" fill="#0000aa"/><circle cx="264.6" cy="292.3" r="1.4" fill="#0000aa"/><circle cx="266.0" cy="291.7" r="1.4" fill="#0000aa"/><circle cx="266.9" cy="292.4" r="1.4" fill="#0000aa"/><circle cx="267.6" cy="292.5" r="1.4" fill="#0000aa"/><circle cx="268.5" cy="291.9" r="1.4" fill="#0000aa"/><circle cx="269.6" cy="291.7" r="1.4" fill="#0000aa"/><circle cx="270.5" cy="291.8" r="1.4" fill="#0000aa"/><circle cx="271.1" cy="291.7" r="1.4" fill="#0000aa"/><circle cx="272.2" cy="291.7" r="1.4" fill="#0000aa"/><circle cx="272.7" cy="291.1" r="1.4" fill="#0000aa"/><circle cx="273.9" cy="291.2" r="1.4" fill="#0000aa"/><circle cx="274.6" cy="291.0" r="1.4" fill="#0000aa"/><circle cx="275.9" cy="290.4" r="1.4" fill="#0000aa"/><circle cx="276.5" cy="290.7" r="1.4" fill="#0000aa"/><circle cx="277.7" cy="290.3" r="1.4" fill="#0000aa"/><circle cx="278.1" cy="291.0" r="1.4" fill="#0000aa"/><circle cx="279.3" cy="289.8" r="1.4" fill="#0000aa"/><circle cx="280.2" cy="289.8" r="1.4" fill="#0000aa"/><circle cx="280.8" cy="289.9" r="1.4" fill="#0000aa"/><circle cx="282.3" cy="289.6" r="1.4" fill="#0000aa"/><circle cx="282.7" cy="289.7" r="1.4" fill="#0000aa"/><circle cx="283.7" cy="289.3" r="1.4" fill="#0000aa"/><circle cx="284.5" cy="288.9" r="1.4" fill="#0000aa"/><circle cx="285.7" cy="288.7" r="1.4" fill="#0000aa"/><circle cx="286.6" cy="288.5" r="1.4" fill="#0000aa"/><circle cx="287.4" cy="287.8" r="1.4" fill="#0000aa"/><circle cx="288.1" cy="288.0" r="1.4" fill="#0000aa"/><circle cx="289.4" cy="287.7" r="1.4" fill="#0000aa"/><circle cx="289.9" cy="287.5" r="1.4" fill="#0000aa"/><circle cx="291.0" cy="287.0" r="1.4" fill="#0000aa"/><circle cx="291.7" cy="287.1" r="1.4" fill="#0000aa"/><circle cx="292.7" cy="287.1" r="1.4" fill="#0000aa"/><circle cx="257.9" cy="291.9" r="1.4" fill="#0000aa"/><circle cx="258.2" cy="291.2" r="1.4" fill="#0000aa"/><circle cx="258.9" cy="291.4" r="1.4" fill="#0000aa"/><circle cx="260.0" cy="291.9" r="1.4" fill="#0000aa"/><circle cx="260.5" cy="291.5" r="1.4" fill="#0000aa"/><circle cx="261.5" cy="291.3" r="1.4" fill="#0000aa"/><circle cx="262.3" cy="291.6" r="1.4" fill="#0000aa"/><circle cx="262.9" cy="291.5" r="1.4" fill="#0000aa"/><circle cx="263.3" cy="291.8" r="1.4" fill="#0000aa"/><circle cx="264.1" cy="292.1" r="1.4" fill="#0000aa"/><circle cx="265.1" cy="291.5" r="1.4" fill="#0000aa"/><circle cx="265.8" cy="291.7" r="1.4" fill="#0000aa"/><circle cx="266.3" cy="291.5" r="1.4" fill="#0000aa"/><circle cx="267.3" cy="291.7" r="1.4" fill="#0000aa"/><circle cx="267.7" cy="291.4" r="1.4" fill="#0000aa"/><circle cx="268.5" cy="291.1" r="1.4" fill="#0000aa"/><circle cx="268.9" cy="291.6" r="1.4" fill="#0000aa"/><circle cx="269.8" cy="291.2" r="1.4" fill="#0000aa"/><circle cx="270.4" cy="291.2" r="1.4" fill="#0000aa"/><circle cx="271.6" cy="291.2" r="1.4" fill="#0000aa"/><circle cx="272.1" cy="290.4" r="1.4" fill="#0000aa"/><circle cx="272.9" cy="291.5" r="1.4" fill="#0000aa"/><circle cx="273.2" cy="290.5" r="1.4" fill="#0000aa"/><circle cx="274.3" cy="290.7" r="1.4" fill="#0000aa"/><circle cx="274.8" cy="291.0" r="1.4" fill="#0000aa"/><circle cx="275.6" cy="290.8" r="1.4" fill="#0000aa"/><circle cx="276.2" cy="290.1" r="1.4" fill="#0000aa"/><circle cx="277.1" cy="289.4" r="1.4" fill="#0000aa"/><circle cx="277.6" cy="290.2" r="1.4" fill="#0000aa"/><circle cx="278.4" cy="289.7" r="1.4" fill="#0000aa"/><circle cx="279.2" cy="289.5" r="1.4" fill="#0000aa"/><circle cx="280.2" cy="289.1" r="1.4" fill="#0000aa"/><circle cx="280.6" cy="289.2" r="1.4" fill="#0000aa"/><circle cx="281.4" cy="289.0" r="1.4" fill="#0000aa"/><circle cx="281.8" cy="288.9" r="1.4" fill="#0000aa"/><circle cx="282.6" cy="288.3" r="1.4" fill="#0000aa"/><circle cx="283.3" cy="288.4" r="1.4" fill="#0000aa"/><circle cx="284.0" cy="287.5" r="1.4" fill="#0000aa"/><circle cx="285.0" cy="287.6" r="1.4" fill="#0000aa"/><circle cx="285.7" cy="287.4" r="1.4" fill="#0000aa"/><circle cx="286.5" cy="287.1" r="1.4" fill="#0000aa"/><circle cx="287.0" cy="286.6" r="1.4" fill="#0000aa"/><circle cx="287.8" cy="286.7" r="1.4" fill="#0000aa"/><circle cx="288.4" cy="286.6" r="1.4" fill="#0000aa"/><circle cx="289.2" cy="286.5" r="1.4" fill="#0000aa"/><circle cx="289.9" cy="286.0" r="1.4" fill="#0000aa"/><circle cx="290.6" cy="285.8" r="1.4" fill="#0000aa"/><circle cx="291.6" cy="285.5" r="1.4" fill="#0000aa"/><circle cx="292.1" cy="285.6" r="1.4" fill="#0000aa"/><circle cx="292.7" cy="285.3" r="1.4" fill="#0000aa"/><path d="M257.9,300.0l1.6,2.0l-1.6,2.0l-1.6,-2.0z" fill="#0000ff"/><path d="M258.1,301.0l1.6,2.0l-1.6,2.0l-1.6,-2.0z" fill="#0000ff"/><path d="M258.9,300.4l1.6,2.0l-1.6,2.0l-1.6,-2.0z" fill="#0000ff"/><path d="M259.2,299.5l1.6,2.0l-1.6,2.0l-1.6,-2.0z" fill="#0000ff"/><path d="M260.2,300.4l1.6,2.0l-1.6,2.0l-1.6,-2.0z" fill="#0000ff"/><path d="M260.4,300.2l1.6,2.0l-1.6,2.0l-1.6,-2.0z" fill="#0000ff"/><path d="M261.4,301.3l1.6,2.0l-1.6,2.0l-1.6,-2.0z" fill="#0000ff"/><path d="M261.7,299.7l1.6,2.0l-1.6,2.0l-1.6,-2.0z" fill="#0000ff"/><path d="M262.6,300.4l1.6,2.0l-1.6,2.0l-1.6,-2.0z" fill="#0000ff"/><path d="M263.1,300.5l1.6,2.0l-1.6,2.0l-1.6,-2.0z" fill="#0000ff"/><path d="M263.7,299.1l1.6,2.0l-1.6,2.0l-1.6,-2.0z" fill="#0000ff"/><path d="M264.4,299.9l1.6,2.0l-1.6,2.0l-1.6,-2.0z" fill="#0000ff"/><path d="M264.8,299.0l1.6,2.0l-1.6,2.0l-1.6,-2.0z" fill="#0000ff"/><path d="M265.6,299.6l1.6,2.0l-1.6,2.0l-1.6,-2.0z" fill="#0000ff"/><path d="M265.8,298.7l1.6,2.0l-1.6,2.0l-1.6,-2.0z" fill="#0000ff"/><path d="M266.8,300.8l1.6,2.0l-1.6,2.0l-1.6,-2.0z" fill="#0000ff"/><path d="M267.3,299.9l1.6,2.0l-1.6,2.0l-1.6,-2.0z" fill="#0000ff"/><path d="M267.8,300.6l1.6,2.0l-1.6,2.0l-1.6,-2.0z" fill="#0000ff"/><path d="M268.4,299.7l1.6,2.0l-1.6,2.0l-1.6,-2.0z" fill="#0000ff"/><path d="M269.2,300.4l1.6,2.0l-1.6,2.0l-1.6,-2.0z" fill="#0000ff"/><path d="M269.5,299.3l1.6,2.0l-1.6,2.0l-1.6,-2.0z" fill="#0000ff"/><path d="M270.2,299.0l1.6,2.0l-1.6,2.0l-1.6,-2.0z" fill="#0000ff"/><path d="M270.7,300.1l1.6,2.0l-1.6,2.0l-1.6,-2.0z" fill="#0000ff"/><path d="M271.3,299.3l1.6,2.0l-1.6,2.0l-1.6,-2.0z" fill="#0000ff"/><path d="M271.9,299.7l1.6,2.0l-1.6,2.0l-1.6,-2.0z" fill="#0000ff"/><path d="M272.7,300.2l1.6,2.0l-1.6,2.0l-1.6,-2.0z" fill="#0000ff"/><path d="M273.1,299.3l1.6,2.0l-1.6,2.0l-1.6,-2.0z" fill="#0000ff"/><path d="M273.6,299.7l1.6,2.0l-1.6,2.0l-1.6,-2.0z" fill="#0000ff"/><path d="M274.4,300.1l1.6,2.0l-1.6,2.0l-1.6,-2.0z" fill="#0000ff"/><path d="M275.0,300.9l1.6,2.0l-1.6,2.0l-1.6,-2.0z" fill="#0000ff"/><path d="M275.4,300.4l1.6,2.0l-1.6,2.0l-1.6,-2.0z" fill="#0000ff"/><path d="M276.3,300.5l1.6,2.0l-1.6,2.0l-1.6,-2.0z" fill="#0000ff"/><path d="M276.6,298.6l1.6,2.0l-1.6,2.0l-1.6,-2.0z" fill="#0000ff"/><path d="M277.3,299.8l1.6,2.0l-1.6,2.0l-1.6,-2.0z" fill="#0000ff"/><path d="M277.7,299.7l1.6,2.0l-1.6,2.0l-1.6,-2.0z" fill="#0000ff"/><path d="M278.6,298.5l1.6,2.0l-1.6,2.0l-1.6,-2.0z" fill="#0000ff"/><path d="M279.3,299.7l1.6,2.0l-1.6,2.0l-1.6,-2.0z" fill="#0000ff"/><path d="M279.7,300.4l1.6,2.0l-1.6,2.0l-1.6,-2.0z" fill="#0000ff"/><path d="M280.3,299.7l1.6,2.0l-1.6,2.0l-1.6,-2.0z" fill="#0000ff"/><path d="M281.0,299.3l1.6,2.0l-1.6,2.0l-1.6,-2.0z" fill="#0000ff"/><path d="M281.6,300.0l1.6,2.0l-1.6,2.0l-1.6,-2.0z" fill="#0000ff"/><path d="M282.0,300.4l1.6,2.0l-1.6,2.0l-1.6,-2.0z" fill="#0000ff"/><path d="M282.7,299.4l1.6,2.0l-1.6,2.0l-1.6,-2.0z" fill="#0000ff"/><path d="M283.0,299.2l1.6,2.0l-1.6,2.0l-1.6,-2.0z" fill="#0000ff"/><path d="M283.9,300.0l1.6,2.0l-1.6,2.0l-1.6,-2.0z" fill="#0000ff"/><path d="M284.5,300.6l1.6,2.0l-1.6,2.0l-1.6,-2.0z" fill="#0000ff"/><path d="M285.1,298.6l1.6,2.0l-1.6,2.0l-1.6,-2.0z" fill="#0000ff"/><path d="M285.6,298.3l1.6,2.0l-1.6,2.0l-1.6,-2.0z" fill="#0000ff"/><path d="M286.2,298.3l1.6,2.0l-1.6,2.0l-1.6,-2.0z" fill="#0000ff"/><path d="M286.9,299.7l1.6,2.0l-1.6,2.0l-1.6,-2.0z" fill="#0000ff"/><path d="M287.3,299.2l1.6,2.0l-1.6,2.0l-1.6,-2.0z" fill="#0000ff"/><path d="M288.3,299.8l1.6,2.0l-1.6,2.0l-1.6,-2.0z" fill="#0000ff"/><path d="M288.4,298.9l1.6,2.0l-1.6,2.0l-1.6,-2.0z" fill="#0000ff"/><path d="M289.5,299.1l1.6,2.0l-1.6,2.0l-1.6,-2.0z" fill="#0000ff"/><path d="M290.1,298.5l1.6,2.0l-1.6,2.0l-1.6,-2.0z" fill="#0000ff"/><path d="M290.7,299.2l1.6,2.0l-1.6,2.0l-1.6,-2.0z" fill="#0000ff"/><path d="M290.9,299.6l1.6,2.0l-1.6,2.0l-1.6,-2.0z" fill="#0000ff"/><path d="M291.6,299.1l1.6,2.0l-1.6,2.0l-1.6,-2.0z" fill="#0000ff"/><path d="M292.0,299.4l1.6,2.0l-1.6,2.0l-1.6,-2.0z" fill="#0000ff"/><path d="M292.9,299.0l1.6,2.0l-1.6,2.0l-1.6,-2.0z" fill="#0000ff"/><path d="M269,225.7 L276,225.0 L283,224.6 L287.5,224.2" stroke="#fff" stroke-width="0.9" fill="none" opacity="0.85"/><path d="M265.5,231.4 L270,231.3 L276,230.8 L284,229.4" stroke="#fff" stroke-width="1.0" fill="none" opacity="0.9"/><path d="M258.5,229.2 L265,229.0" stroke="#fff" stroke-width="0.6" fill="none" opacity="0.35"/></g>
<path d="M257.10,323.40 C257.13,323.12 256.83,322.85 257.30,321.70 C257.77,320.55 258.97,318.28 259.90,316.50 C260.83,314.72 261.90,312.67 262.90,311.00 C263.90,309.33 264.92,307.80 265.90,306.50 C266.88,305.20 267.82,304.12 268.80,303.20 C269.78,302.28 270.82,301.52 271.80,301.00 C272.78,300.48 273.67,300.33 274.70,300.10 C275.73,299.87 276.78,299.67 278.00,299.60 C279.22,299.53 280.33,299.53 282.00,299.70 C283.67,299.87 285.95,300.28 288.00,300.60 C290.05,300.92 291.80,301.23 294.30,301.60 C296.80,301.97 299.93,302.45 303.00,302.80 C306.07,303.15 309.03,303.45 312.70,303.70 C316.37,303.95 320.62,304.17 325.00,304.30 C329.38,304.43 325.92,304.47 339.00,304.50 C352.08,304.53 392.75,304.50 403.50,304.50" fill="none" stroke="#000" stroke-width="1.3"/>
<rect x="256.90" y="213.80" width="146.60" height="109.60" fill="none" stroke="#1a1a1a" stroke-width="1.1"/>
<path d="M256.90,323.40v-1.5M256.90,213.80v1.5M293.55,323.40v-1.5M293.55,213.80v1.5M330.20,323.40v-1.5M330.20,213.80v1.5M366.85,323.40v-1.5M366.85,213.80v1.5M403.50,323.40v-1.5M403.50,213.80v1.5M256.90,323.40h1.5M256.90,301.48h1.5M256.90,279.56h1.5M256.90,257.64h1.5M256.90,235.72h1.5M256.90,213.80h1.5M403.50,323.40h-1.5M403.50,292.09h-1.5M403.50,260.77h-1.5M403.50,229.46h-1.5" stroke="#1a1a1a" stroke-width="0.8" fill="none"/>
<g font-size="8.3" fill="#000" stroke="#000" stroke-width="0.08"><text transform="translate(256.90,332.10) scale(0.900,1)" text-anchor="middle">0</text><text transform="translate(293.55,332.10) scale(0.900,1)" text-anchor="middle">0.1</text><text transform="translate(330.20,332.10) scale(0.900,1)" text-anchor="middle">0.2</text><text transform="translate(366.85,332.10) scale(0.900,1)" text-anchor="middle">0.3</text><text transform="translate(403.50,332.10) scale(0.900,1)" text-anchor="middle">0.4</text><text transform="translate(256.00,326.40) scale(0.900,1)" text-anchor="end">0</text><text transform="translate(256.00,304.48) scale(0.900,1)" text-anchor="end">5</text><text transform="translate(256.00,282.56) scale(0.900,1)" text-anchor="end">10</text><text transform="translate(256.00,260.64) scale(0.900,1)" text-anchor="end">15</text><text transform="translate(256.00,238.72) scale(0.900,1)" text-anchor="end">20</text><text transform="translate(256.00,216.80) scale(0.900,1)" text-anchor="end">25</text><text transform="translate(404.70,326.40) scale(0.900,1)" text-anchor="start">0</text><text transform="translate(404.70,295.09) scale(0.900,1)" text-anchor="start">10</text><text transform="translate(404.70,263.77) scale(0.900,1)" text-anchor="start">20</text><text transform="translate(404.70,232.46) scale(0.900,1)" text-anchor="start">30</text></g>
<text transform="translate(330.20,208.00) scale(0.93,1)" font-size="8.4" text-anchor="middle" fill="#000" stroke="#000" stroke-width="0.08">β 110°C</text>
<text transform="translate(239.20,268.90) rotate(-90)" font-size="8.4" letter-spacing="0.25" text-anchor="middle" fill="#000" stroke="#000" stroke-width="0.08">L [nm]</text>
<text transform="translate(422.50,268.60) rotate(-90)" font-size="8.6" letter-spacing="0.3" text-anchor="middle" fill="#000" stroke="#000" stroke-width="0.08"><tspan font-family="'Liberation Serif',serif" font-size="10">σ</tspan><tspan font-size="6.2" dy="2.6">e</tspan><tspan dy="-2.6"> [MPa]</tspan></text>
<text x="330.50" y="342.80" font-size="8.3" text-anchor="middle" fill="#111"><tspan font-family="'Liberation Serif',serif" font-style="italic" font-size="8.8">ε</tspan><tspan font-size="6.3" dy="3.6" letter-spacing="0.15" dx="0.4">mac</tspan><tspan dy="-3.6" font-size="8.2"> [–]</tspan></text>
<text transform="translate(329.60,369.10) scale(1.1,1)" font-size="12.3" letter-spacing="0.5" text-anchor="middle" fill="#111" style="font-family:'Liberation Serif',serif">(<tspan font-size="11.1" font-weight="bold">d</tspan>)</text>
<circle cx="485.0" cy="44.7" r="1.85" fill="none" stroke="#aa0000" stroke-width="1.2"/>
<text x="494.5" y="46.20" font-size="9.9" fill="#000" stroke="#000" stroke-width="0.12">Ip<tspan font-size="7.3" dy="4.3">eq</tspan><tspan dy="-4.3"> Bragg</tspan></text>
<circle cx="485.0" cy="61.0" r="2.25" fill="#aa0000"/>
<text x="494.5" y="62.50" font-size="9.9" fill="#000" stroke="#000" stroke-width="0.12">Ip<tspan font-size="7.3" dy="4.3">mer</tspan><tspan dy="-4.3"> Bragg</tspan></text>
<path d="M485.00,74.85l1.9,2.45l-1.9,2.45l-1.9,-2.45z" fill="none" stroke="#ff0000" stroke-width="1.1"/>
<text x="494.5" y="78.80" font-size="9.9" fill="#000" stroke="#000" stroke-width="0.12">Ip<tspan font-size="7.3" dy="4.3">eq</tspan></text>
<path d="M485.00,90.80l2.2,2.8l-2.2,2.8l-2.2,-2.8z" fill="#ff0000"/>
<text x="494.5" y="95.10" font-size="9.9" fill="#000" stroke="#000" stroke-width="0.12">Ip<tspan font-size="7.3" dy="4.3">mer</tspan></text>
<circle cx="485.0" cy="109.9" r="1.85" fill="none" stroke="#007000" stroke-width="1.2"/>
<text x="494.5" y="111.40" font-size="9.9" fill="#000" stroke="#000" stroke-width="0.12">Ic<tspan font-size="7.3" dy="4.3">eq</tspan><tspan dy="-4.3"> Bragg</tspan></text>
<circle cx="485.0" cy="126.2" r="2.25" fill="#007000"/>
<text x="494.5" y="127.70" font-size="9.9" fill="#000" stroke="#000" stroke-width="0.12">Ic<tspan font-size="7.3" dy="4.3">mer</tspan><tspan dy="-4.3"> Bragg</tspan></text>
<path d="M485.00,140.05l1.9,2.45l-1.9,2.45l-1.9,-2.45z" fill="none" stroke="#00a000" stroke-width="1.1"/>
<text x="494.5" y="144.00" font-size="9.9" fill="#000" stroke="#000" stroke-width="0.12">Ic<tspan font-size="7.3" dy="4.3">eq</tspan></text>
<path d="M485.00,156.00l2.2,2.8l-2.2,2.8l-2.2,-2.8z" fill="#00a000"/>
<text x="494.5" y="160.30" font-size="9.9" fill="#000" stroke="#000" stroke-width="0.12">Ic<tspan font-size="7.3" dy="4.3">mer</tspan></text>
<circle cx="485.0" cy="175.1" r="1.85" fill="none" stroke="#0000aa" stroke-width="1.2"/>
<text x="494.5" y="176.60" font-size="9.9" fill="#000" stroke="#000" stroke-width="0.12">Ia<tspan font-size="7.3" dy="4.3">eq</tspan><tspan dy="-4.3"> Bragg</tspan></text>
<circle cx="485.0" cy="191.4" r="2.25" fill="#0000aa"/>
<text x="494.5" y="192.90" font-size="9.9" fill="#000" stroke="#000" stroke-width="0.12">Ia<tspan font-size="7.3" dy="4.3">mer</tspan><tspan dy="-4.3"> Bragg</tspan></text>
<path d="M485.00,205.25l1.9,2.45l-1.9,2.45l-1.9,-2.45z" fill="none" stroke="#0000ff" stroke-width="1.1"/>
<text x="494.5" y="209.20" font-size="9.9" fill="#000" stroke="#000" stroke-width="0.12">Ia<tspan font-size="7.3" dy="4.3">eq</tspan></text>
<path d="M485.00,221.20l2.2,2.8l-2.2,2.8l-2.2,-2.8z" fill="#0000ff"/>
<text x="494.5" y="225.50" font-size="9.9" fill="#000" stroke="#000" stroke-width="0.12">Ia<tspan font-size="7.3" dy="4.3">mer</tspan></text>
</svg></body></html>
